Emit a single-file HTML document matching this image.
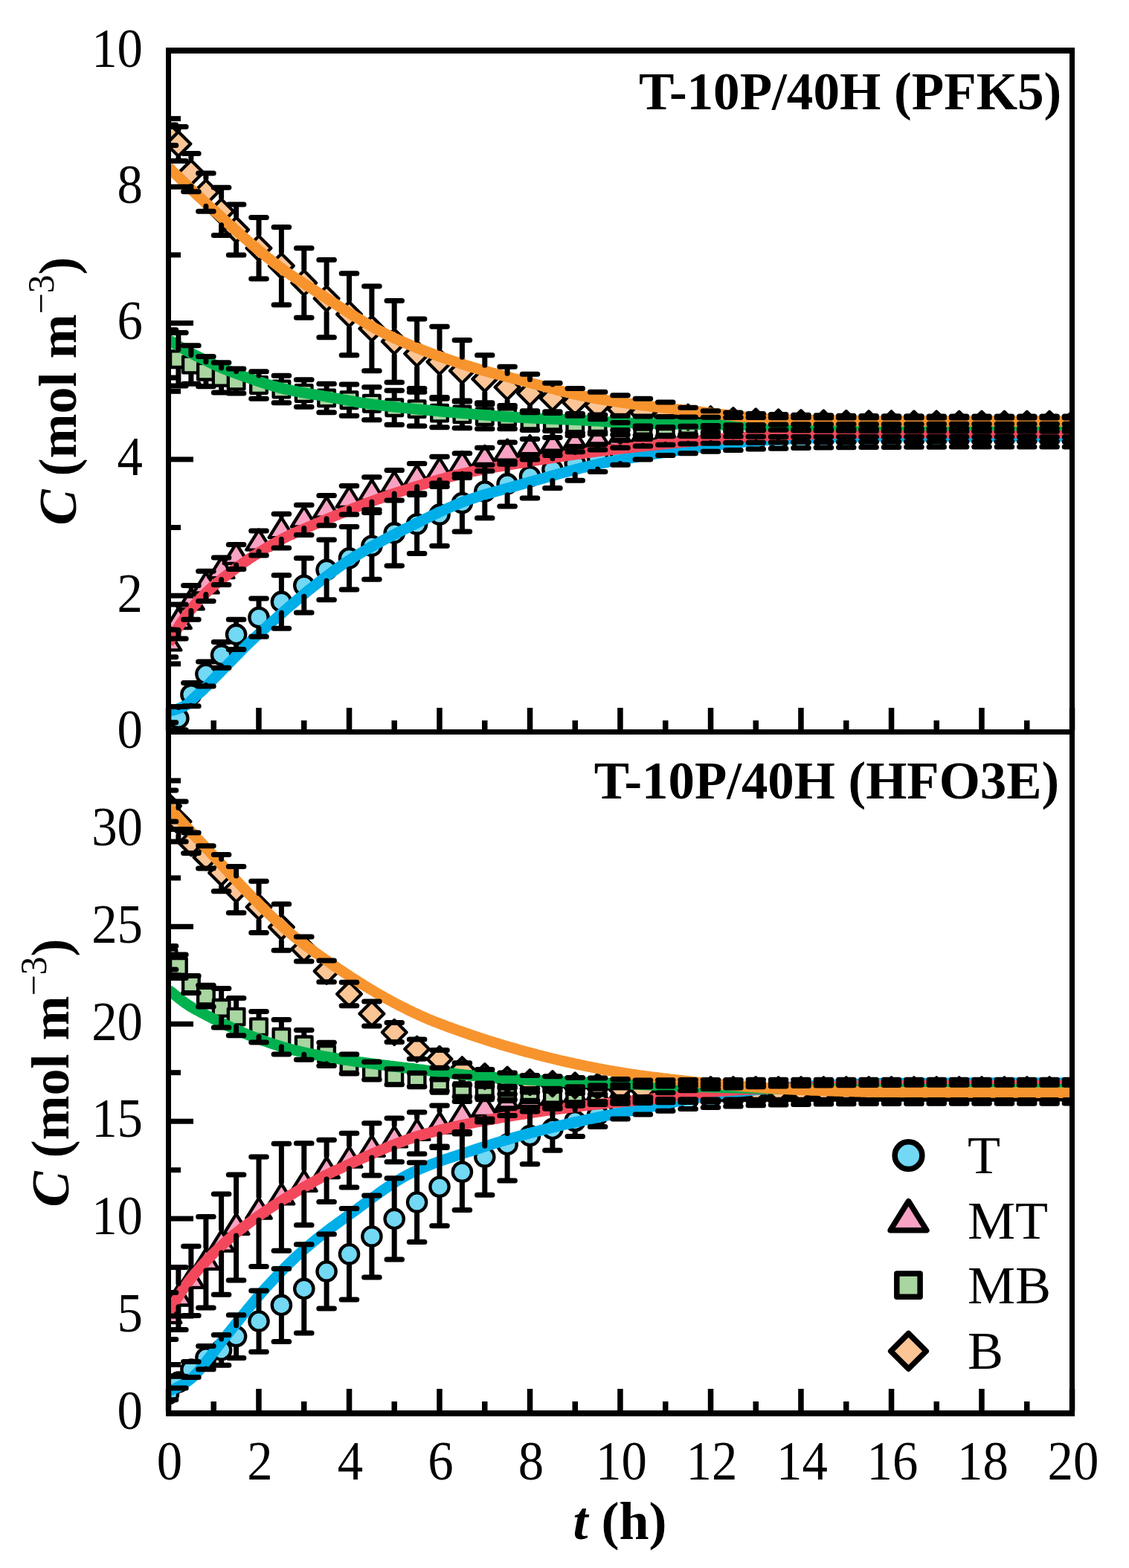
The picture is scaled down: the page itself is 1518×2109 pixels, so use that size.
<!DOCTYPE html>
<html><head><meta charset="utf-8"><title>C vs t</title>
<style>
html,body{margin:0;padding:0;background:#fff;}
svg{display:block;}
text{font-family:"Liberation Serif","Times New Roman",serif;fill:#000;}
</style></head><body>
<svg width="1518" height="2109" viewBox="0 0 1518 2109" xmlns="http://www.w3.org/2000/svg" font-size="72">
<defs>
<clipPath id="ct"><rect x="230" y="72" width="1208" height="909"/></clipPath>
<clipPath id="cb"><rect x="230" y="988" width="1208" height="909"/></clipPath>
</defs>
<rect width="1518" height="2109" fill="#fff"/>
<g clip-path="url(#ct)">
<circle cx="226.5" cy="982.7" r="12.65" fill="#72D8F3" stroke="#000" stroke-width="4.3"/>
<circle cx="239.9" cy="966.2" r="12.65" fill="#72D8F3" stroke="#000" stroke-width="4.3"/>
<circle cx="256.9" cy="934.1" r="12.65" fill="#72D8F3" stroke="#000" stroke-width="4.3"/>
<circle cx="276.9" cy="906.6" r="12.65" fill="#72D8F3" stroke="#000" stroke-width="4.3"/>
<circle cx="297.6" cy="880.9" r="12.65" fill="#72D8F3" stroke="#000" stroke-width="4.3"/>
<circle cx="317.6" cy="853.4" r="12.65" fill="#72D8F3" stroke="#000" stroke-width="4.3"/>
<circle cx="348.0" cy="830.5" r="12.65" fill="#72D8F3" stroke="#000" stroke-width="4.3"/>
<circle cx="378.4" cy="809.4" r="12.65" fill="#72D8F3" stroke="#000" stroke-width="4.3"/>
<circle cx="408.8" cy="787.5" r="12.65" fill="#72D8F3" stroke="#000" stroke-width="4.3"/>
<circle cx="439.1" cy="766.4" r="12.65" fill="#72D8F3" stroke="#000" stroke-width="4.3"/>
<circle cx="469.5" cy="750.8" r="12.65" fill="#72D8F3" stroke="#000" stroke-width="4.3"/>
<circle cx="499.9" cy="734.3" r="12.65" fill="#72D8F3" stroke="#000" stroke-width="4.3"/>
<circle cx="530.2" cy="716.9" r="12.65" fill="#72D8F3" stroke="#000" stroke-width="4.3"/>
<circle cx="560.6" cy="705.0" r="12.65" fill="#72D8F3" stroke="#000" stroke-width="4.3"/>
<circle cx="591.0" cy="692.1" r="12.65" fill="#72D8F3" stroke="#000" stroke-width="4.3"/>
<circle cx="621.4" cy="676.6" r="12.65" fill="#72D8F3" stroke="#000" stroke-width="4.3"/>
<circle cx="651.8" cy="661.0" r="12.65" fill="#72D8F3" stroke="#000" stroke-width="4.3"/>
<circle cx="682.1" cy="650.9" r="12.65" fill="#72D8F3" stroke="#000" stroke-width="4.3"/>
<circle cx="712.5" cy="640.8" r="12.65" fill="#72D8F3" stroke="#000" stroke-width="4.3"/>
<circle cx="742.9" cy="631.6" r="12.65" fill="#72D8F3" stroke="#000" stroke-width="4.3"/>
<circle cx="773.2" cy="623.4" r="12.65" fill="#72D8F3" stroke="#000" stroke-width="4.3"/>
<circle cx="803.6" cy="616.1" r="12.65" fill="#72D8F3" stroke="#000" stroke-width="4.3"/>
<circle cx="834.0" cy="608.7" r="12.65" fill="#72D8F3" stroke="#000" stroke-width="4.3"/>
<circle cx="864.4" cy="604.2" r="12.65" fill="#72D8F3" stroke="#000" stroke-width="4.3"/>
<circle cx="894.8" cy="599.6" r="12.65" fill="#72D8F3" stroke="#000" stroke-width="4.3"/>
<circle cx="925.1" cy="596.8" r="12.65" fill="#72D8F3" stroke="#000" stroke-width="4.3"/>
<circle cx="955.5" cy="594.5" r="12.65" fill="#72D8F3" stroke="#000" stroke-width="4.3"/>
<circle cx="985.9" cy="592.8" r="12.65" fill="#72D8F3" stroke="#000" stroke-width="4.3"/>
<circle cx="1016.2" cy="591.6" r="12.65" fill="#72D8F3" stroke="#000" stroke-width="4.3"/>
<circle cx="1046.6" cy="590.7" r="12.65" fill="#72D8F3" stroke="#000" stroke-width="4.3"/>
<circle cx="1077.0" cy="590.1" r="12.65" fill="#72D8F3" stroke="#000" stroke-width="4.3"/>
<circle cx="1107.4" cy="589.7" r="12.65" fill="#72D8F3" stroke="#000" stroke-width="4.3"/>
<circle cx="1137.8" cy="589.4" r="12.65" fill="#72D8F3" stroke="#000" stroke-width="4.3"/>
<circle cx="1168.1" cy="589.1" r="12.65" fill="#72D8F3" stroke="#000" stroke-width="4.3"/>
<circle cx="1198.5" cy="589.0" r="12.65" fill="#72D8F3" stroke="#000" stroke-width="4.3"/>
<circle cx="1228.9" cy="588.9" r="12.65" fill="#72D8F3" stroke="#000" stroke-width="4.3"/>
<circle cx="1259.2" cy="588.8" r="12.65" fill="#72D8F3" stroke="#000" stroke-width="4.3"/>
<circle cx="1289.6" cy="588.7" r="12.65" fill="#72D8F3" stroke="#000" stroke-width="4.3"/>
<circle cx="1320.0" cy="588.7" r="12.65" fill="#72D8F3" stroke="#000" stroke-width="4.3"/>
<circle cx="1350.4" cy="588.6" r="12.65" fill="#72D8F3" stroke="#000" stroke-width="4.3"/>
<circle cx="1380.8" cy="588.6" r="12.65" fill="#72D8F3" stroke="#000" stroke-width="4.3"/>
<circle cx="1411.1" cy="588.6" r="12.65" fill="#72D8F3" stroke="#000" stroke-width="4.3"/>
<circle cx="1441.5" cy="588.6" r="12.65" fill="#72D8F3" stroke="#000" stroke-width="4.3"/>
<path d="M226.5,847.4L243.3,874.4L209.7,874.4Z" fill="#F9A2C3" stroke="#000" stroke-width="4.3" stroke-linejoin="round"/>
<path d="M239.9,818.0L256.7,845.0L223.1,845.0Z" fill="#F9A2C3" stroke="#000" stroke-width="4.3" stroke-linejoin="round"/>
<path d="M256.9,792.4L273.7,819.4L240.1,819.4Z" fill="#F9A2C3" stroke="#000" stroke-width="4.3" stroke-linejoin="round"/>
<path d="M276.9,770.4L293.7,797.4L260.1,797.4Z" fill="#F9A2C3" stroke="#000" stroke-width="4.3" stroke-linejoin="round"/>
<path d="M297.6,750.2L314.4,777.2L280.8,777.2Z" fill="#F9A2C3" stroke="#000" stroke-width="4.3" stroke-linejoin="round"/>
<path d="M317.6,731.0L334.4,758.0L300.8,758.0Z" fill="#F9A2C3" stroke="#000" stroke-width="4.3" stroke-linejoin="round"/>
<path d="M348.0,712.6L364.8,739.6L331.2,739.6Z" fill="#F9A2C3" stroke="#000" stroke-width="4.3" stroke-linejoin="round"/>
<path d="M378.4,696.1L395.2,723.1L361.6,723.1Z" fill="#F9A2C3" stroke="#000" stroke-width="4.3" stroke-linejoin="round"/>
<path d="M408.8,681.5L425.6,708.5L391.9,708.5Z" fill="#F9A2C3" stroke="#000" stroke-width="4.3" stroke-linejoin="round"/>
<path d="M439.1,668.6L455.9,695.6L422.3,695.6Z" fill="#F9A2C3" stroke="#000" stroke-width="4.3" stroke-linejoin="round"/>
<path d="M469.5,654.9L486.3,681.9L452.7,681.9Z" fill="#F9A2C3" stroke="#000" stroke-width="4.3" stroke-linejoin="round"/>
<path d="M499.9,645.7L516.7,672.7L483.1,672.7Z" fill="#F9A2C3" stroke="#000" stroke-width="4.3" stroke-linejoin="round"/>
<path d="M530.2,634.7L547.0,661.7L513.5,661.7Z" fill="#F9A2C3" stroke="#000" stroke-width="4.3" stroke-linejoin="round"/>
<path d="M560.6,625.6L577.4,652.6L543.8,652.6Z" fill="#F9A2C3" stroke="#000" stroke-width="4.3" stroke-linejoin="round"/>
<path d="M591.0,616.4L607.8,643.4L574.2,643.4Z" fill="#F9A2C3" stroke="#000" stroke-width="4.3" stroke-linejoin="round"/>
<path d="M621.4,608.1L638.2,635.1L604.6,635.1Z" fill="#F9A2C3" stroke="#000" stroke-width="4.3" stroke-linejoin="round"/>
<path d="M651.8,599.9L668.5,626.9L635.0,626.9Z" fill="#F9A2C3" stroke="#000" stroke-width="4.3" stroke-linejoin="round"/>
<path d="M682.1,591.7L698.9,618.7L665.3,618.7Z" fill="#F9A2C3" stroke="#000" stroke-width="4.3" stroke-linejoin="round"/>
<path d="M712.5,586.2L729.3,613.2L695.7,613.2Z" fill="#F9A2C3" stroke="#000" stroke-width="4.3" stroke-linejoin="round"/>
<path d="M742.9,582.5L759.7,609.5L726.1,609.5Z" fill="#F9A2C3" stroke="#000" stroke-width="4.3" stroke-linejoin="round"/>
<path d="M773.2,578.8L790.0,605.8L756.5,605.8Z" fill="#F9A2C3" stroke="#000" stroke-width="4.3" stroke-linejoin="round"/>
<path d="M803.6,575.2L820.4,602.2L786.8,602.2Z" fill="#F9A2C3" stroke="#000" stroke-width="4.3" stroke-linejoin="round"/>
<path d="M834.0,572.4L850.8,599.4L817.2,599.4Z" fill="#F9A2C3" stroke="#000" stroke-width="4.3" stroke-linejoin="round"/>
<path d="M864.4,570.1L881.2,597.1L847.6,597.1Z" fill="#F9A2C3" stroke="#000" stroke-width="4.3" stroke-linejoin="round"/>
<path d="M894.8,568.4L911.5,595.4L878.0,595.4Z" fill="#F9A2C3" stroke="#000" stroke-width="4.3" stroke-linejoin="round"/>
<path d="M925.1,567.2L941.9,594.2L908.3,594.2Z" fill="#F9A2C3" stroke="#000" stroke-width="4.3" stroke-linejoin="round"/>
<path d="M955.5,566.3L972.3,593.3L938.7,593.3Z" fill="#F9A2C3" stroke="#000" stroke-width="4.3" stroke-linejoin="round"/>
<path d="M985.9,565.7L1002.7,592.7L969.1,592.7Z" fill="#F9A2C3" stroke="#000" stroke-width="4.3" stroke-linejoin="round"/>
<path d="M1016.2,565.3L1033.0,592.3L999.5,592.3Z" fill="#F9A2C3" stroke="#000" stroke-width="4.3" stroke-linejoin="round"/>
<path d="M1046.6,565.0L1063.4,592.0L1029.8,592.0Z" fill="#F9A2C3" stroke="#000" stroke-width="4.3" stroke-linejoin="round"/>
<path d="M1077.0,564.7L1093.8,591.7L1060.2,591.7Z" fill="#F9A2C3" stroke="#000" stroke-width="4.3" stroke-linejoin="round"/>
<path d="M1107.4,564.6L1124.2,591.6L1090.6,591.6Z" fill="#F9A2C3" stroke="#000" stroke-width="4.3" stroke-linejoin="round"/>
<path d="M1137.8,564.5L1154.5,591.5L1121.0,591.5Z" fill="#F9A2C3" stroke="#000" stroke-width="4.3" stroke-linejoin="round"/>
<path d="M1168.1,564.4L1184.9,591.4L1151.3,591.4Z" fill="#F9A2C3" stroke="#000" stroke-width="4.3" stroke-linejoin="round"/>
<path d="M1198.5,564.3L1215.3,591.3L1181.7,591.3Z" fill="#F9A2C3" stroke="#000" stroke-width="4.3" stroke-linejoin="round"/>
<path d="M1228.9,564.3L1245.7,591.3L1212.1,591.3Z" fill="#F9A2C3" stroke="#000" stroke-width="4.3" stroke-linejoin="round"/>
<path d="M1259.2,564.2L1276.0,591.2L1242.5,591.2Z" fill="#F9A2C3" stroke="#000" stroke-width="4.3" stroke-linejoin="round"/>
<path d="M1289.6,564.2L1306.4,591.2L1272.8,591.2Z" fill="#F9A2C3" stroke="#000" stroke-width="4.3" stroke-linejoin="round"/>
<path d="M1320.0,564.2L1336.8,591.2L1303.2,591.2Z" fill="#F9A2C3" stroke="#000" stroke-width="4.3" stroke-linejoin="round"/>
<path d="M1350.4,564.2L1367.2,591.2L1333.6,591.2Z" fill="#F9A2C3" stroke="#000" stroke-width="4.3" stroke-linejoin="round"/>
<path d="M1380.8,564.2L1397.5,591.2L1364.0,591.2Z" fill="#F9A2C3" stroke="#000" stroke-width="4.3" stroke-linejoin="round"/>
<path d="M1411.1,564.2L1427.9,591.2L1394.3,591.2Z" fill="#F9A2C3" stroke="#000" stroke-width="4.3" stroke-linejoin="round"/>
<path d="M1441.5,564.2L1458.3,591.2L1424.7,591.2Z" fill="#F9A2C3" stroke="#000" stroke-width="4.3" stroke-linejoin="round"/>
<rect x="215.7" y="465.0" width="21.6" height="21.6" fill="#A8D5A0" stroke="#000" stroke-width="4.3" stroke-linejoin="round"/>
<rect x="229.1" y="472.4" width="21.6" height="21.6" fill="#A8D5A0" stroke="#000" stroke-width="4.3" stroke-linejoin="round"/>
<rect x="246.1" y="479.7" width="21.6" height="21.6" fill="#A8D5A0" stroke="#000" stroke-width="4.3" stroke-linejoin="round"/>
<rect x="266.1" y="488.9" width="21.6" height="21.6" fill="#A8D5A0" stroke="#000" stroke-width="4.3" stroke-linejoin="round"/>
<rect x="286.8" y="497.1" width="21.6" height="21.6" fill="#A8D5A0" stroke="#000" stroke-width="4.3" stroke-linejoin="round"/>
<rect x="306.8" y="501.7" width="21.6" height="21.6" fill="#A8D5A0" stroke="#000" stroke-width="4.3" stroke-linejoin="round"/>
<rect x="337.2" y="507.2" width="21.6" height="21.6" fill="#A8D5A0" stroke="#000" stroke-width="4.3" stroke-linejoin="round"/>
<rect x="367.6" y="512.7" width="21.6" height="21.6" fill="#A8D5A0" stroke="#000" stroke-width="4.3" stroke-linejoin="round"/>
<rect x="397.9" y="518.2" width="21.6" height="21.6" fill="#A8D5A0" stroke="#000" stroke-width="4.3" stroke-linejoin="round"/>
<rect x="428.3" y="524.6" width="21.6" height="21.6" fill="#A8D5A0" stroke="#000" stroke-width="4.3" stroke-linejoin="round"/>
<rect x="458.7" y="527.4" width="21.6" height="21.6" fill="#A8D5A0" stroke="#000" stroke-width="4.3" stroke-linejoin="round"/>
<rect x="489.1" y="531.9" width="21.6" height="21.6" fill="#A8D5A0" stroke="#000" stroke-width="4.3" stroke-linejoin="round"/>
<rect x="519.5" y="537.4" width="21.6" height="21.6" fill="#A8D5A0" stroke="#000" stroke-width="4.3" stroke-linejoin="round"/>
<rect x="549.8" y="539.3" width="21.6" height="21.6" fill="#A8D5A0" stroke="#000" stroke-width="4.3" stroke-linejoin="round"/>
<rect x="580.2" y="544.8" width="21.6" height="21.6" fill="#A8D5A0" stroke="#000" stroke-width="4.3" stroke-linejoin="round"/>
<rect x="610.6" y="546.6" width="21.6" height="21.6" fill="#A8D5A0" stroke="#000" stroke-width="4.3" stroke-linejoin="round"/>
<rect x="641.0" y="549.4" width="21.6" height="21.6" fill="#A8D5A0" stroke="#000" stroke-width="4.3" stroke-linejoin="round"/>
<rect x="671.3" y="550.3" width="21.6" height="21.6" fill="#A8D5A0" stroke="#000" stroke-width="4.3" stroke-linejoin="round"/>
<rect x="701.7" y="554.9" width="21.6" height="21.6" fill="#A8D5A0" stroke="#000" stroke-width="4.3" stroke-linejoin="round"/>
<rect x="732.1" y="555.8" width="21.6" height="21.6" fill="#A8D5A0" stroke="#000" stroke-width="4.3" stroke-linejoin="round"/>
<rect x="762.5" y="558.5" width="21.6" height="21.6" fill="#A8D5A0" stroke="#000" stroke-width="4.3" stroke-linejoin="round"/>
<rect x="792.8" y="560.1" width="21.6" height="21.6" fill="#A8D5A0" stroke="#000" stroke-width="4.3" stroke-linejoin="round"/>
<rect x="823.2" y="561.2" width="21.6" height="21.6" fill="#A8D5A0" stroke="#000" stroke-width="4.3" stroke-linejoin="round"/>
<rect x="853.6" y="562.0" width="21.6" height="21.6" fill="#A8D5A0" stroke="#000" stroke-width="4.3" stroke-linejoin="round"/>
<rect x="884.0" y="562.6" width="21.6" height="21.6" fill="#A8D5A0" stroke="#000" stroke-width="4.3" stroke-linejoin="round"/>
<rect x="914.3" y="563.0" width="21.6" height="21.6" fill="#A8D5A0" stroke="#000" stroke-width="4.3" stroke-linejoin="round"/>
<rect x="944.7" y="563.3" width="21.6" height="21.6" fill="#A8D5A0" stroke="#000" stroke-width="4.3" stroke-linejoin="round"/>
<rect x="975.1" y="563.5" width="21.6" height="21.6" fill="#A8D5A0" stroke="#000" stroke-width="4.3" stroke-linejoin="round"/>
<rect x="1005.5" y="563.6" width="21.6" height="21.6" fill="#A8D5A0" stroke="#000" stroke-width="4.3" stroke-linejoin="round"/>
<rect x="1035.8" y="563.8" width="21.6" height="21.6" fill="#A8D5A0" stroke="#000" stroke-width="4.3" stroke-linejoin="round"/>
<rect x="1066.2" y="563.8" width="21.6" height="21.6" fill="#A8D5A0" stroke="#000" stroke-width="4.3" stroke-linejoin="round"/>
<rect x="1096.6" y="563.9" width="21.6" height="21.6" fill="#A8D5A0" stroke="#000" stroke-width="4.3" stroke-linejoin="round"/>
<rect x="1127.0" y="563.9" width="21.6" height="21.6" fill="#A8D5A0" stroke="#000" stroke-width="4.3" stroke-linejoin="round"/>
<rect x="1157.3" y="564.0" width="21.6" height="21.6" fill="#A8D5A0" stroke="#000" stroke-width="4.3" stroke-linejoin="round"/>
<rect x="1187.7" y="564.0" width="21.6" height="21.6" fill="#A8D5A0" stroke="#000" stroke-width="4.3" stroke-linejoin="round"/>
<rect x="1218.1" y="564.0" width="21.6" height="21.6" fill="#A8D5A0" stroke="#000" stroke-width="4.3" stroke-linejoin="round"/>
<rect x="1248.5" y="564.0" width="21.6" height="21.6" fill="#A8D5A0" stroke="#000" stroke-width="4.3" stroke-linejoin="round"/>
<rect x="1278.8" y="564.0" width="21.6" height="21.6" fill="#A8D5A0" stroke="#000" stroke-width="4.3" stroke-linejoin="round"/>
<rect x="1309.2" y="564.0" width="21.6" height="21.6" fill="#A8D5A0" stroke="#000" stroke-width="4.3" stroke-linejoin="round"/>
<rect x="1339.6" y="564.0" width="21.6" height="21.6" fill="#A8D5A0" stroke="#000" stroke-width="4.3" stroke-linejoin="round"/>
<rect x="1370.0" y="564.0" width="21.6" height="21.6" fill="#A8D5A0" stroke="#000" stroke-width="4.3" stroke-linejoin="round"/>
<rect x="1400.3" y="564.0" width="21.6" height="21.6" fill="#A8D5A0" stroke="#000" stroke-width="4.3" stroke-linejoin="round"/>
<rect x="1430.7" y="564.0" width="21.6" height="21.6" fill="#A8D5A0" stroke="#000" stroke-width="4.3" stroke-linejoin="round"/>
<path d="M226.5,165.2L242.9,181.6L226.5,198.0L210.1,181.6Z" fill="#FBC596" stroke="#000" stroke-width="4.3" stroke-linejoin="round"/>
<path d="M239.9,177.2L256.3,193.6L239.9,210.0L223.5,193.6Z" fill="#FBC596" stroke="#000" stroke-width="4.3" stroke-linejoin="round"/>
<path d="M256.9,215.7L273.3,232.1L256.9,248.5L240.5,232.1Z" fill="#FBC596" stroke="#000" stroke-width="4.3" stroke-linejoin="round"/>
<path d="M276.9,242.2L293.3,258.6L276.9,275.0L260.5,258.6Z" fill="#FBC596" stroke="#000" stroke-width="4.3" stroke-linejoin="round"/>
<path d="M297.6,267.9L314.0,284.3L297.6,300.7L281.2,284.3Z" fill="#FBC596" stroke="#000" stroke-width="4.3" stroke-linejoin="round"/>
<path d="M317.6,292.6L334.0,309.0L317.6,325.4L301.2,309.0Z" fill="#FBC596" stroke="#000" stroke-width="4.3" stroke-linejoin="round"/>
<path d="M348.0,317.4L364.4,333.8L348.0,350.2L331.6,333.8Z" fill="#FBC596" stroke="#000" stroke-width="4.3" stroke-linejoin="round"/>
<path d="M378.4,341.2L394.8,357.6L378.4,374.0L362.0,357.6Z" fill="#FBC596" stroke="#000" stroke-width="4.3" stroke-linejoin="round"/>
<path d="M408.8,364.1L425.1,380.5L408.8,396.9L392.4,380.5Z" fill="#FBC596" stroke="#000" stroke-width="4.3" stroke-linejoin="round"/>
<path d="M439.1,385.2L455.5,401.6L439.1,418.0L422.7,401.6Z" fill="#FBC596" stroke="#000" stroke-width="4.3" stroke-linejoin="round"/>
<path d="M469.5,406.3L485.9,422.7L469.5,439.1L453.1,422.7Z" fill="#FBC596" stroke="#000" stroke-width="4.3" stroke-linejoin="round"/>
<path d="M499.9,425.5L516.3,441.9L499.9,458.3L483.5,441.9Z" fill="#FBC596" stroke="#000" stroke-width="4.3" stroke-linejoin="round"/>
<path d="M530.2,442.9L546.6,459.3L530.2,475.7L513.9,459.3Z" fill="#FBC596" stroke="#000" stroke-width="4.3" stroke-linejoin="round"/>
<path d="M560.6,459.4L577.0,475.8L560.6,492.2L544.2,475.8Z" fill="#FBC596" stroke="#000" stroke-width="4.3" stroke-linejoin="round"/>
<path d="M591.0,470.4L607.4,486.8L591.0,503.2L574.6,486.8Z" fill="#FBC596" stroke="#000" stroke-width="4.3" stroke-linejoin="round"/>
<path d="M621.4,482.4L637.8,498.8L621.4,515.2L605.0,498.8Z" fill="#FBC596" stroke="#000" stroke-width="4.3" stroke-linejoin="round"/>
<path d="M651.8,493.4L668.1,509.8L651.8,526.2L635.4,509.8Z" fill="#FBC596" stroke="#000" stroke-width="4.3" stroke-linejoin="round"/>
<path d="M682.1,504.4L698.5,520.8L682.1,537.2L665.7,520.8Z" fill="#FBC596" stroke="#000" stroke-width="4.3" stroke-linejoin="round"/>
<path d="M712.5,512.6L728.9,529.0L712.5,545.4L696.1,529.0Z" fill="#FBC596" stroke="#000" stroke-width="4.3" stroke-linejoin="round"/>
<path d="M742.9,519.0L759.3,535.4L742.9,551.8L726.5,535.4Z" fill="#FBC596" stroke="#000" stroke-width="4.3" stroke-linejoin="round"/>
<path d="M773.2,524.5L789.6,540.9L773.2,557.3L756.9,540.9Z" fill="#FBC596" stroke="#000" stroke-width="4.3" stroke-linejoin="round"/>
<path d="M803.6,529.1L820.0,545.5L803.6,561.9L787.2,545.5Z" fill="#FBC596" stroke="#000" stroke-width="4.3" stroke-linejoin="round"/>
<path d="M834.0,533.7L850.4,550.1L834.0,566.5L817.6,550.1Z" fill="#FBC596" stroke="#000" stroke-width="4.3" stroke-linejoin="round"/>
<path d="M864.4,538.3L880.8,554.7L864.4,571.1L848.0,554.7Z" fill="#FBC596" stroke="#000" stroke-width="4.3" stroke-linejoin="round"/>
<path d="M894.8,541.9L911.1,558.3L894.8,574.7L878.4,558.3Z" fill="#FBC596" stroke="#000" stroke-width="4.3" stroke-linejoin="round"/>
<path d="M925.1,544.7L941.5,561.1L925.1,577.5L908.7,561.1Z" fill="#FBC596" stroke="#000" stroke-width="4.3" stroke-linejoin="round"/>
<path d="M955.5,547.4L971.9,563.8L955.5,580.2L939.1,563.8Z" fill="#FBC596" stroke="#000" stroke-width="4.3" stroke-linejoin="round"/>
<path d="M985.9,549.2L1002.3,565.6L985.9,582.0L969.5,565.6Z" fill="#FBC596" stroke="#000" stroke-width="4.3" stroke-linejoin="round"/>
<path d="M1016.2,550.5L1032.7,566.9L1016.2,583.3L999.9,566.9Z" fill="#FBC596" stroke="#000" stroke-width="4.3" stroke-linejoin="round"/>
<path d="M1046.6,551.5L1063.0,567.9L1046.6,584.3L1030.2,567.9Z" fill="#FBC596" stroke="#000" stroke-width="4.3" stroke-linejoin="round"/>
<path d="M1077.0,552.2L1093.4,568.6L1077.0,585.0L1060.6,568.6Z" fill="#FBC596" stroke="#000" stroke-width="4.3" stroke-linejoin="round"/>
<path d="M1107.4,552.6L1123.8,569.0L1107.4,585.4L1091.0,569.0Z" fill="#FBC596" stroke="#000" stroke-width="4.3" stroke-linejoin="round"/>
<path d="M1137.8,553.0L1154.2,569.4L1137.8,585.8L1121.3,569.4Z" fill="#FBC596" stroke="#000" stroke-width="4.3" stroke-linejoin="round"/>
<path d="M1168.1,553.2L1184.5,569.6L1168.1,586.0L1151.7,569.6Z" fill="#FBC596" stroke="#000" stroke-width="4.3" stroke-linejoin="round"/>
<path d="M1198.5,553.4L1214.9,569.8L1198.5,586.2L1182.1,569.8Z" fill="#FBC596" stroke="#000" stroke-width="4.3" stroke-linejoin="round"/>
<path d="M1228.9,553.5L1245.3,569.9L1228.9,586.3L1212.5,569.9Z" fill="#FBC596" stroke="#000" stroke-width="4.3" stroke-linejoin="round"/>
<path d="M1259.2,553.6L1275.7,570.0L1259.2,586.4L1242.8,570.0Z" fill="#FBC596" stroke="#000" stroke-width="4.3" stroke-linejoin="round"/>
<path d="M1289.6,553.7L1306.0,570.1L1289.6,586.5L1273.2,570.1Z" fill="#FBC596" stroke="#000" stroke-width="4.3" stroke-linejoin="round"/>
<path d="M1320.0,553.7L1336.4,570.1L1320.0,586.5L1303.6,570.1Z" fill="#FBC596" stroke="#000" stroke-width="4.3" stroke-linejoin="round"/>
<path d="M1350.4,553.8L1366.8,570.2L1350.4,586.6L1334.0,570.2Z" fill="#FBC596" stroke="#000" stroke-width="4.3" stroke-linejoin="round"/>
<path d="M1380.8,553.8L1397.2,570.2L1380.8,586.6L1364.3,570.2Z" fill="#FBC596" stroke="#000" stroke-width="4.3" stroke-linejoin="round"/>
<path d="M1411.1,553.8L1427.5,570.2L1411.1,586.6L1394.7,570.2Z" fill="#FBC596" stroke="#000" stroke-width="4.3" stroke-linejoin="round"/>
<path d="M1441.5,553.8L1457.9,570.2L1441.5,586.6L1425.1,570.2Z" fill="#FBC596" stroke="#000" stroke-width="4.3" stroke-linejoin="round"/>
<path d="M226.5,956.1L229.5,955.9L232.6,955.4L235.6,954.6L238.7,953.6L241.7,952.4L244.7,951.1L247.8,949.7L250.8,948.1L253.8,945.6L256.9,942.6L259.9,939.5L262.9,936.7L266.0,934.0L269.0,931.4L272.1,928.7L275.1,925.8L278.1,922.8L281.2,919.7L284.2,916.4L287.2,913.3L290.3,910.2L293.3,907.1L296.4,904.0L299.4,900.8L302.4,897.7L305.5,894.5L308.5,891.4L311.6,888.3L314.6,885.2L317.6,882.1L320.7,879.0L323.7,875.9L326.7,872.9L329.8,869.9L332.8,866.9L335.9,863.9L338.9,861.0L341.9,858.1L345.0,855.3L348.0,852.5L351.0,849.8L354.1,847.0L357.1,844.3L360.1,841.5L363.2,838.8L366.2,836.1L369.3,833.3L372.3,830.6L375.3,827.9L378.4,825.3L381.4,822.6L384.5,819.9L387.5,817.3L390.5,814.6L393.6,812.0L396.6,809.4L399.6,806.8L402.7,804.2L405.7,801.7L408.8,799.2L411.8,796.6L414.8,794.1L417.9,791.7L420.9,789.2L423.9,786.8L427.0,784.4L430.0,782.0L433.1,779.6L436.1,777.3L439.1,775.0L442.2,772.7L445.2,770.5L448.2,768.2L451.3,766.0L454.3,763.9L457.4,761.7L460.4,759.6L463.4,757.6L466.5,755.5L469.5,753.5L472.5,751.6L475.6,749.6L478.6,747.7L481.6,745.9L484.7,744.0L487.7,742.2L490.8,740.4L493.8,738.6L496.8,736.9L499.9,735.1L502.9,733.4L506.0,731.7L509.0,730.1L512.0,728.4L515.1,726.8L518.1,725.1L521.1,723.5L524.2,721.9L527.2,720.4L530.2,718.8L533.3,717.2L536.3,715.7L539.4,714.1L542.4,712.6L545.4,711.1L548.5,709.5L551.5,708.0L554.5,706.5L557.6,705.0L560.6,703.5L563.7,701.9L566.7,700.4L569.7,698.9L572.8,697.4L575.8,695.9L578.9,694.4L581.9,693.0L584.9,691.5L588.0,690.1L591.0,688.7L594.0,687.2L597.1,685.9L600.1,684.5L603.2,683.1L606.2,681.8L609.2,680.5L612.3,679.2L615.3,678.0L618.3,676.8L621.4,675.6L624.4,674.4L627.5,673.3L630.5,672.2L633.5,671.2L636.6,670.1L639.6,669.1L642.6,668.1L645.7,667.2L648.7,666.2L651.8,665.3L654.8,664.4L657.8,663.5L660.9,662.6L663.9,661.8L666.9,660.9L670.0,660.1L673.0,659.2L676.0,658.4L679.1,657.6L682.1,656.7L685.2,655.9L688.2,655.1L691.2,654.2L694.3,653.4L697.3,652.5L700.4,651.7L703.4,650.8L706.4,650.0L709.5,649.1L712.5,648.3L715.5,647.4L718.6,646.6L721.6,645.7L724.7,644.9L727.7,644.0L730.7,643.2L733.8,642.3L736.8,641.5L739.8,640.6L742.9,639.8L745.9,638.9L748.9,638.1L752.0,637.3L755.0,636.4L758.1,635.6L761.1,634.8L764.1,634.0L767.2,633.2L770.2,632.4L773.2,631.6L776.3,630.9L779.3,630.1L782.4,629.3L785.4,628.6L788.4,627.9L791.5,627.1L794.5,626.4L797.6,625.7L800.6,625.0L803.6,624.3L806.7,623.7L809.7,623.0L812.7,622.4L815.8,621.8L818.8,621.2L821.9,620.6L824.9,620.0L827.9,619.4L831.0,618.9L834.0,618.4L837.0,617.8L840.1,617.3L843.1,616.8L846.2,616.3L849.2,615.8L852.2,615.3L855.3,614.8L858.3,614.2L861.3,613.7L864.4,613.2L867.4,612.7L870.5,612.2L873.5,611.7L876.5,611.2L879.6,610.7L882.6,610.2L885.6,609.8L888.7,609.3L891.7,608.8L894.8,608.3L897.8,607.8L900.8,607.4L903.9,606.9L906.9,606.4L909.9,606.0L913.0,605.5L916.0,605.0L919.1,604.6L922.1,604.2L925.1,603.7L928.2,603.3L931.2,602.8L934.2,602.4L937.3,602.0L940.3,601.6L943.4,601.2L946.4,600.7L949.4,600.3L952.5,599.9L955.5,599.6L958.5,599.2L961.6,598.8L964.6,598.4L967.7,598.0L970.7,597.7L973.7,597.3L976.8,597.0L979.8,596.6L982.8,596.3L985.9,596.0L988.9,595.6L992.0,595.3L995.0,595.0L998.0,594.7L1001.1,594.4L1004.1,594.1L1007.1,593.9L1010.2,593.6L1013.2,593.3L1016.2,593.1L1019.3,592.8L1022.3,592.6L1025.4,592.4L1028.4,592.1L1031.4,591.9L1034.5,591.7L1037.5,591.5L1040.6,591.3L1043.6,591.2L1046.6,591.0L1049.7,590.8L1052.7,590.7L1055.7,590.5L1058.8,590.4L1061.8,590.3L1064.8,590.2L1067.9,590.0L1070.9,589.9L1074.0,589.8L1077.0,589.7L1080.0,589.5L1083.1,589.4L1086.1,589.3L1089.2,589.2L1092.2,589.1L1095.2,589.0L1098.3,588.9L1101.3,588.7L1104.3,588.6L1107.4,588.5L1110.4,588.4L1113.5,588.3L1116.5,588.2L1119.5,588.1L1122.6,588.0L1125.6,587.9L1128.6,587.9L1131.7,587.8L1134.7,587.7L1137.8,587.6L1140.8,587.5L1143.8,587.4L1146.9,587.4L1149.9,587.3L1152.9,587.2L1156.0,587.2L1159.0,587.1L1162.1,587.1L1165.1,587.0L1168.1,587.0L1171.2,586.9L1174.2,586.9L1177.2,586.9L1180.3,586.8L1183.3,586.8L1186.3,586.8L1189.4,586.8L1192.4,586.7L1195.5,586.7L1198.5,586.7L1201.5,586.7L1204.6,586.7L1207.6,586.7L1210.7,586.7L1213.7,586.7L1216.7,586.7L1219.8,586.7L1222.8,586.7L1225.8,586.7L1228.9,586.7L1231.9,586.7L1235.0,586.7L1238.0,586.7L1241.0,586.7L1244.1,586.7L1247.1,586.7L1250.1,586.7L1253.2,586.7L1256.2,586.7L1259.2,586.7L1262.3,586.7L1265.3,586.7L1268.4,586.7L1271.4,586.7L1274.4,586.7L1277.5,586.7L1280.5,586.7L1283.6,586.7L1286.6,586.7L1289.6,586.7L1292.7,586.7L1295.7,586.7L1298.7,586.7L1301.8,586.7L1304.8,586.7L1307.9,586.7L1310.9,586.7L1313.9,586.7L1317.0,586.7L1320.0,586.7L1323.0,586.7L1326.1,586.7L1329.1,586.7L1332.1,586.7L1335.2,586.7L1338.2,586.7L1341.3,586.7L1344.3,586.7L1347.3,586.7L1350.4,586.7L1353.4,586.7L1356.5,586.7L1359.5,586.7L1362.5,586.7L1365.6,586.7L1368.6,586.7L1371.6,586.7L1374.7,586.7L1377.7,586.7L1380.8,586.7L1383.8,586.7L1386.8,586.7L1389.9,586.7L1392.9,586.7L1395.9,586.7L1399.0,586.7L1402.0,586.7L1405.1,586.7L1408.1,586.7L1411.1,586.7L1414.2,586.7L1417.2,586.7L1420.2,586.7L1423.3,586.7L1426.3,586.7L1429.4,586.7L1432.4,586.7L1435.4,586.7L1438.5,586.7L1441.5,586.7" fill="none" stroke="#00AEE8" stroke-width="14.5" stroke-linejoin="round"/>
<path d="M226.5,865.4L229.5,860.1L232.6,855.0L235.6,850.0L238.7,845.2L241.7,840.5L244.7,836.0L247.8,831.6L250.8,827.4L253.8,823.4L256.9,819.5L259.9,815.9L262.9,812.3L266.0,808.9L269.0,805.5L272.1,802.3L275.1,799.2L278.1,796.3L281.2,793.4L284.2,790.6L287.2,788.0L290.3,785.4L293.3,782.9L296.4,780.4L299.4,777.9L302.4,775.5L305.5,773.1L308.5,770.8L311.6,768.5L314.6,766.2L317.6,763.9L320.7,761.7L323.7,759.5L326.7,757.4L329.8,755.3L332.8,753.2L335.9,751.1L338.9,749.1L341.9,747.1L345.0,745.2L348.0,743.2L351.0,741.4L354.1,739.5L357.1,737.6L360.1,735.8L363.2,734.1L366.2,732.3L369.3,730.6L372.3,728.9L375.3,727.2L378.4,725.6L381.4,723.9L384.5,722.4L387.5,720.8L390.5,719.4L393.6,718.0L396.6,716.6L399.6,715.3L402.7,714.0L405.7,712.7L408.8,711.4L411.8,710.1L414.8,708.8L417.9,707.5L420.9,706.2L423.9,704.9L427.0,703.6L430.0,702.3L433.1,701.0L436.1,699.8L439.1,698.5L442.2,697.2L445.2,695.9L448.2,694.7L451.3,693.4L454.3,692.2L457.4,690.9L460.4,689.7L463.4,688.5L466.5,687.2L469.5,686.0L472.5,684.8L475.6,683.6L478.6,682.4L481.6,681.2L484.7,680.1L487.7,678.9L490.8,677.8L493.8,676.6L496.8,675.5L499.9,674.3L502.9,673.2L506.0,672.1L509.0,671.0L512.0,670.0L515.1,668.9L518.1,667.8L521.1,666.8L524.2,665.7L527.2,664.7L530.2,663.7L533.3,662.7L536.3,661.7L539.4,660.8L542.4,659.8L545.4,658.8L548.5,657.8L551.5,656.9L554.5,655.9L557.6,654.9L560.6,654.0L563.7,653.1L566.7,652.1L569.7,651.2L572.8,650.3L575.8,649.4L578.9,648.5L581.9,647.6L584.9,646.8L588.0,645.9L591.0,645.0L594.0,644.2L597.1,643.4L600.1,642.6L603.2,641.8L606.2,641.0L609.2,640.2L612.3,639.4L615.3,638.7L618.3,638.0L621.4,637.2L624.4,636.5L627.5,635.9L630.5,635.2L633.5,634.5L636.6,633.9L639.6,633.3L642.6,632.7L645.7,632.1L648.7,631.5L651.8,630.9L654.8,630.3L657.8,629.8L660.9,629.2L663.9,628.7L666.9,628.2L670.0,627.7L673.0,627.1L676.0,626.6L679.1,626.1L682.1,625.6L685.2,625.1L688.2,624.6L691.2,624.1L694.3,623.6L697.3,623.1L700.4,622.6L703.4,622.1L706.4,621.6L709.5,621.1L712.5,620.6L715.5,620.2L718.6,619.7L721.6,619.2L724.7,618.7L727.7,618.2L730.7,617.7L733.8,617.2L736.8,616.8L739.8,616.3L742.9,615.8L745.9,615.3L748.9,614.9L752.0,614.4L755.0,613.9L758.1,613.5L761.1,613.0L764.1,612.6L767.2,612.1L770.2,611.7L773.2,611.2L776.3,610.8L779.3,610.4L782.4,610.0L785.4,609.5L788.4,609.1L791.5,608.7L794.5,608.3L797.6,607.9L800.6,607.5L803.6,607.1L806.7,606.7L809.7,606.3L812.7,606.0L815.8,605.6L818.8,605.2L821.9,604.9L824.9,604.5L827.9,604.2L831.0,603.8L834.0,603.5L837.0,603.2L840.1,602.9L843.1,602.5L846.2,602.2L849.2,601.9L852.2,601.6L855.3,601.2L858.3,600.9L861.3,600.6L864.4,600.3L867.4,599.9L870.5,599.6L873.5,599.3L876.5,599.0L879.6,598.6L882.6,598.3L885.6,598.0L888.7,597.7L891.7,597.4L894.8,597.1L897.8,596.7L900.8,596.4L903.9,596.1L906.9,595.8L909.9,595.5L913.0,595.2L916.0,594.9L919.1,594.6L922.1,594.3L925.1,594.0L928.2,593.7L931.2,593.4L934.2,593.2L937.3,592.9L940.3,592.6L943.4,592.3L946.4,592.0L949.4,591.8L952.5,591.5L955.5,591.2L958.5,591.0L961.6,590.7L964.6,590.5L967.7,590.2L970.7,590.0L973.7,589.7L976.8,589.5L979.8,589.3L982.8,589.0L985.9,588.8L988.9,588.6L992.0,588.4L995.0,588.2L998.0,587.9L1001.1,587.7L1004.1,587.5L1007.1,587.3L1010.2,587.2L1013.2,587.0L1016.2,586.8L1019.3,586.6L1022.3,586.5L1025.4,586.3L1028.4,586.1L1031.4,586.0L1034.5,585.8L1037.5,585.7L1040.6,585.6L1043.6,585.4L1046.6,585.3L1049.7,585.2L1052.7,585.1L1055.7,585.0L1058.8,584.9L1061.8,584.8L1064.8,584.7L1067.9,584.6L1070.9,584.5L1074.0,584.4L1077.0,584.4L1080.0,584.3L1083.1,584.2L1086.1,584.1L1089.2,584.0L1092.2,583.9L1095.2,583.8L1098.3,583.8L1101.3,583.7L1104.3,583.6L1107.4,583.5L1110.4,583.4L1113.5,583.4L1116.5,583.3L1119.5,583.2L1122.6,583.1L1125.6,583.1L1128.6,583.0L1131.7,582.9L1134.7,582.9L1137.8,582.8L1140.8,582.8L1143.8,582.7L1146.9,582.6L1149.9,582.6L1152.9,582.5L1156.0,582.5L1159.0,582.4L1162.1,582.4L1165.1,582.4L1168.1,582.3L1171.2,582.3L1174.2,582.3L1177.2,582.2L1180.3,582.2L1183.3,582.2L1186.3,582.2L1189.4,582.2L1192.4,582.2L1195.5,582.2L1198.5,582.2L1201.5,582.2L1204.6,582.2L1207.6,582.2L1210.7,582.2L1213.7,582.2L1216.7,582.2L1219.8,582.2L1222.8,582.2L1225.8,582.2L1228.9,582.2L1231.9,582.2L1235.0,582.2L1238.0,582.2L1241.0,582.2L1244.1,582.2L1247.1,582.2L1250.1,582.2L1253.2,582.2L1256.2,582.2L1259.2,582.2L1262.3,582.2L1265.3,582.2L1268.4,582.2L1271.4,582.2L1274.4,582.2L1277.5,582.2L1280.5,582.2L1283.6,582.2L1286.6,582.2L1289.6,582.2L1292.7,582.2L1295.7,582.2L1298.7,582.2L1301.8,582.2L1304.8,582.2L1307.9,582.2L1310.9,582.2L1313.9,582.2L1317.0,582.2L1320.0,582.2L1323.0,582.2L1326.1,582.2L1329.1,582.2L1332.1,582.2L1335.2,582.2L1338.2,582.2L1341.3,582.2L1344.3,582.2L1347.3,582.2L1350.4,582.2L1353.4,582.2L1356.5,582.2L1359.5,582.2L1362.5,582.2L1365.6,582.2L1368.6,582.2L1371.6,582.2L1374.7,582.2L1377.7,582.2L1380.8,582.2L1383.8,582.2L1386.8,582.2L1389.9,582.2L1392.9,582.2L1395.9,582.2L1399.0,582.2L1402.0,582.2L1405.1,582.2L1408.1,582.2L1411.1,582.2L1414.2,582.2L1417.2,582.2L1420.2,582.2L1423.3,582.2L1426.3,582.2L1429.4,582.2L1432.4,582.2L1435.4,582.2L1438.5,582.2L1441.5,582.2" fill="none" stroke="#F3485C" stroke-width="14.5" stroke-linejoin="round"/>
<path d="M226.5,456.6L229.5,458.6L232.6,460.6L235.6,462.5L238.7,464.4L241.7,466.2L244.7,468.0L247.8,469.8L250.8,471.6L253.8,473.3L256.9,474.9L259.9,476.5L262.9,478.1L266.0,479.6L269.0,481.1L272.1,482.6L275.1,484.1L278.1,485.6L281.2,487.1L284.2,488.6L287.2,490.0L290.3,491.5L293.3,492.8L296.4,494.2L299.4,495.4L302.4,496.7L305.5,497.9L308.5,499.1L311.6,500.2L314.6,501.3L317.6,502.4L320.7,503.5L323.7,504.6L326.7,505.7L329.8,506.8L332.8,507.9L335.9,508.9L338.9,510.0L341.9,511.1L345.0,512.1L348.0,513.2L351.0,514.2L354.1,515.2L357.1,516.1L360.1,517.1L363.2,518.0L366.2,518.9L369.3,519.8L372.3,520.6L375.3,521.4L378.4,522.1L381.4,522.9L384.5,523.6L387.5,524.2L390.5,524.9L393.6,525.5L396.6,526.1L399.6,526.7L402.7,527.2L405.7,527.8L408.8,528.3L411.8,528.8L414.8,529.4L417.9,529.9L420.9,530.4L423.9,530.9L427.0,531.4L430.0,531.9L433.1,532.4L436.1,532.9L439.1,533.5L442.2,534.0L445.2,534.6L448.2,535.1L451.3,535.6L454.3,536.2L457.4,536.8L460.4,537.3L463.4,537.8L466.5,538.4L469.5,538.9L472.5,539.5L475.6,540.0L478.6,540.5L481.6,541.0L484.7,541.5L487.7,541.9L490.8,542.4L493.8,542.8L496.8,543.3L499.9,543.7L502.9,544.1L506.0,544.4L509.0,544.8L512.0,545.2L515.1,545.5L518.1,545.9L521.1,546.2L524.2,546.6L527.2,546.9L530.2,547.3L533.3,547.6L536.3,547.9L539.4,548.2L542.4,548.6L545.4,548.9L548.5,549.2L551.5,549.5L554.5,549.8L557.6,550.1L560.6,550.4L563.7,550.7L566.7,551.0L569.7,551.2L572.8,551.5L575.8,551.8L578.9,552.1L581.9,552.4L584.9,552.6L588.0,552.9L591.0,553.2L594.0,553.4L597.1,553.7L600.1,554.0L603.2,554.2L606.2,554.5L609.2,554.7L612.3,555.0L615.3,555.3L618.3,555.5L621.4,555.8L624.4,556.0L627.5,556.3L630.5,556.5L633.5,556.8L636.6,557.1L639.6,557.3L642.6,557.6L645.7,557.8L648.7,558.1L651.8,558.3L654.8,558.6L657.8,558.8L660.9,559.1L663.9,559.3L666.9,559.5L670.0,559.7L673.0,560.0L676.0,560.2L679.1,560.4L682.1,560.6L685.2,560.8L688.2,561.0L691.2,561.1L694.3,561.3L697.3,561.5L700.4,561.6L703.4,561.8L706.4,562.0L709.5,562.1L712.5,562.3L715.5,562.4L718.6,562.5L721.6,562.7L724.7,562.8L727.7,562.9L730.7,563.0L733.8,563.2L736.8,563.3L739.8,563.4L742.9,563.5L745.9,563.7L748.9,563.8L752.0,563.9L755.0,564.0L758.1,564.2L761.1,564.3L764.1,564.4L767.2,564.5L770.2,564.7L773.2,564.8L776.3,564.9L779.3,565.1L782.4,565.2L785.4,565.4L788.4,565.5L791.5,565.7L794.5,565.8L797.6,566.0L800.6,566.2L803.6,566.3L806.7,566.6L809.7,566.8L812.7,567.0L815.8,567.3L818.8,567.5L821.9,567.7L824.9,568.0L827.9,568.1L831.0,568.3L834.0,568.4L837.0,568.5L840.1,568.6L843.1,568.7L846.2,568.8L849.2,568.9L852.2,569.0L855.3,569.0L858.3,569.1L861.3,569.2L864.4,569.3L867.4,569.4L870.5,569.5L873.5,569.5L876.5,569.6L879.6,569.7L882.6,569.8L885.6,569.8L888.7,569.9L891.7,570.0L894.8,570.1L897.8,570.1L900.8,570.2L903.9,570.3L906.9,570.3L909.9,570.4L913.0,570.5L916.0,570.5L919.1,570.6L922.1,570.7L925.1,570.7L928.2,570.8L931.2,570.8L934.2,570.9L937.3,571.0L940.3,571.0L943.4,571.1L946.4,571.1L949.4,571.2L952.5,571.2L955.5,571.3L958.5,571.3L961.6,571.3L964.6,571.4L967.7,571.4L970.7,571.5L973.7,571.5L976.8,571.6L979.8,571.6L982.8,571.6L985.9,571.7L988.9,571.7L992.0,571.7L995.0,571.8L998.0,571.8L1001.1,571.8L1004.1,571.8L1007.1,571.9L1010.2,571.9L1013.2,571.9L1016.2,571.9L1019.3,572.0L1022.3,572.0L1025.4,572.0L1028.4,572.0L1031.4,572.0L1034.5,572.0L1037.5,572.0L1040.6,572.0L1043.6,572.1L1046.6,572.1L1049.7,572.1L1052.7,572.1L1055.7,572.1L1058.8,572.1L1061.8,572.1L1064.8,572.1L1067.9,572.1L1070.9,572.1L1074.0,572.1L1077.0,572.1L1080.0,572.1L1083.1,572.1L1086.1,572.1L1089.2,572.1L1092.2,572.1L1095.2,572.1L1098.3,572.1L1101.3,572.1L1104.3,572.1L1107.4,572.1L1110.4,572.1L1113.5,572.1L1116.5,572.1L1119.5,572.1L1122.6,572.1L1125.6,572.1L1128.6,572.1L1131.7,572.1L1134.7,572.1L1137.8,572.1L1140.8,572.1L1143.8,572.1L1146.9,572.1L1149.9,572.1L1152.9,572.1L1156.0,572.1L1159.0,572.1L1162.1,572.1L1165.1,572.1L1168.1,572.1L1171.2,572.1L1174.2,572.1L1177.2,572.1L1180.3,572.1L1183.3,572.1L1186.3,572.1L1189.4,572.1L1192.4,572.1L1195.5,572.1L1198.5,572.1L1201.5,572.1L1204.6,572.1L1207.6,572.1L1210.7,572.1L1213.7,572.1L1216.7,572.1L1219.8,572.1L1222.8,572.1L1225.8,572.1L1228.9,572.1L1231.9,572.1L1235.0,572.1L1238.0,572.1L1241.0,572.1L1244.1,572.1L1247.1,572.1L1250.1,572.1L1253.2,572.1L1256.2,572.1L1259.2,572.1L1262.3,572.1L1265.3,572.1L1268.4,572.1L1271.4,572.1L1274.4,572.1L1277.5,572.1L1280.5,572.1L1283.6,572.1L1286.6,572.1L1289.6,572.1L1292.7,572.1L1295.7,572.1L1298.7,572.1L1301.8,572.1L1304.8,572.1L1307.9,572.1L1310.9,572.1L1313.9,572.1L1317.0,572.1L1320.0,572.1L1323.0,572.1L1326.1,572.1L1329.1,572.1L1332.1,572.1L1335.2,572.1L1338.2,572.1L1341.3,572.1L1344.3,572.1L1347.3,572.1L1350.4,572.1L1353.4,572.1L1356.5,572.1L1359.5,572.1L1362.5,572.1L1365.6,572.1L1368.6,572.1L1371.6,572.1L1374.7,572.1L1377.7,572.1L1380.8,572.1L1383.8,572.1L1386.8,572.1L1389.9,572.1L1392.9,572.1L1395.9,572.1L1399.0,572.1L1402.0,572.1L1405.1,572.1L1408.1,572.1L1411.1,572.1L1414.2,572.1L1417.2,572.1L1420.2,572.1L1423.3,572.1L1426.3,572.1L1429.4,572.1L1432.4,572.1L1435.4,572.1L1438.5,572.1L1441.5,572.1" fill="none" stroke="#00B14E" stroke-width="14.5" stroke-linejoin="round"/>
<path d="M226.5,224.7L229.5,227.7L232.6,230.8L235.6,233.8L238.7,236.7L241.7,239.7L244.7,242.7L247.8,245.6L250.8,248.6L253.8,251.5L256.9,254.4L259.9,257.3L262.9,260.2L266.0,263.1L269.0,265.9L272.1,268.8L275.1,271.6L278.1,274.4L281.2,277.2L284.2,279.9L287.2,282.7L290.3,285.5L293.3,288.2L296.4,291.0L299.4,293.8L302.4,296.5L305.5,299.3L308.5,302.1L311.6,304.8L314.6,307.5L317.6,310.3L320.7,313.0L323.7,315.7L326.7,318.4L329.8,321.0L332.8,323.7L335.9,326.3L338.9,328.9L341.9,331.5L345.0,334.1L348.0,336.7L351.0,339.2L354.1,341.7L357.1,344.2L360.1,346.7L363.2,349.1L366.2,351.5L369.3,353.9L372.3,356.2L375.3,358.6L378.4,360.8L381.4,363.1L384.5,365.3L387.5,367.4L390.5,369.5L393.6,371.6L396.6,373.6L399.6,375.6L402.7,377.5L405.7,379.5L408.8,381.4L411.8,383.4L414.8,385.4L417.9,387.3L420.9,389.3L423.9,391.3L427.0,393.3L430.0,395.3L433.1,397.3L436.1,399.3L439.1,401.3L442.2,403.3L445.2,405.3L448.2,407.2L451.3,409.2L454.3,411.2L457.4,413.1L460.4,415.1L463.4,417.0L466.5,419.0L469.5,420.9L472.5,422.8L475.6,424.7L478.6,426.6L481.6,428.4L484.7,430.2L487.7,432.1L490.8,433.9L493.8,435.6L496.8,437.4L499.9,439.1L502.9,440.8L506.0,442.5L509.0,444.1L512.0,445.7L515.1,447.3L518.1,448.9L521.1,450.4L524.2,451.9L527.2,453.3L530.2,454.8L533.3,456.2L536.3,457.5L539.4,458.9L542.4,460.2L545.4,461.5L548.5,462.8L551.5,464.1L554.5,465.4L557.6,466.6L560.6,467.9L563.7,469.1L566.7,470.3L569.7,471.5L572.8,472.6L575.8,473.8L578.9,474.9L581.9,476.1L584.9,477.2L588.0,478.3L591.0,479.4L594.0,480.4L597.1,481.5L600.1,482.6L603.2,483.6L606.2,484.6L609.2,485.7L612.3,486.7L615.3,487.7L618.3,488.7L621.4,489.6L624.4,490.6L627.5,491.6L630.5,492.5L633.5,493.5L636.6,494.4L639.6,495.3L642.6,496.2L645.7,497.1L648.7,497.9L651.8,498.8L654.8,499.6L657.8,500.4L660.9,501.2L663.9,502.1L666.9,502.9L670.0,503.7L673.0,504.4L676.0,505.2L679.1,506.0L682.1,506.8L685.2,507.6L688.2,508.4L691.2,509.2L694.3,509.9L697.3,510.7L700.4,511.5L703.4,512.3L706.4,513.2L709.5,514.0L712.5,514.8L715.5,515.6L718.6,516.4L721.6,517.2L724.7,518.0L727.7,518.8L730.7,519.6L733.8,520.5L736.8,521.3L739.8,522.0L742.9,522.8L745.9,523.6L748.9,524.4L752.0,525.2L755.0,525.9L758.1,526.7L761.1,527.4L764.1,528.1L767.2,528.9L770.2,529.6L773.2,530.3L776.3,530.9L779.3,531.6L782.4,532.3L785.4,532.9L788.4,533.5L791.5,534.1L794.5,534.7L797.6,535.3L800.6,535.8L803.6,536.3L806.7,536.8L809.7,537.3L812.7,537.8L815.8,538.3L818.8,538.8L821.9,539.3L824.9,539.7L827.9,540.2L831.0,540.6L834.0,541.1L837.0,541.5L840.1,541.9L843.1,542.4L846.2,542.8L849.2,543.2L852.2,543.6L855.3,544.0L858.3,544.4L861.3,544.8L864.4,545.2L867.4,545.6L870.5,545.9L873.5,546.3L876.5,546.7L879.6,547.0L882.6,547.4L885.6,547.8L888.7,548.1L891.7,548.5L894.8,548.8L897.8,549.1L900.8,549.5L903.9,549.8L906.9,550.2L909.9,550.5L913.0,550.8L916.0,551.2L919.1,551.5L922.1,551.8L925.1,552.2L928.2,552.5L931.2,552.8L934.2,553.2L937.3,553.5L940.3,553.8L943.4,554.2L946.4,554.5L949.4,554.9L952.5,555.2L955.5,555.6L958.5,556.0L961.6,556.3L964.6,556.7L967.7,557.0L970.7,557.4L973.7,557.8L976.8,558.1L979.8,558.5L982.8,558.8L985.9,559.2L988.9,559.5L992.0,559.8L995.0,560.2L998.0,560.5L1001.1,560.8L1004.1,561.1L1007.1,561.4L1010.2,561.7L1013.2,562.0L1016.2,562.3L1019.3,562.5L1022.3,562.8L1025.4,563.0L1028.4,563.2L1031.4,563.5L1034.5,563.7L1037.5,563.9L1040.6,564.0L1043.6,564.2L1046.6,564.3L1049.7,564.5L1052.7,564.6L1055.7,564.7L1058.8,564.7L1061.8,564.8L1064.8,564.9L1067.9,564.9L1070.9,565.0L1074.0,565.0L1077.0,565.1L1080.0,565.1L1083.1,565.2L1086.1,565.2L1089.2,565.2L1092.2,565.3L1095.2,565.3L1098.3,565.3L1101.3,565.4L1104.3,565.4L1107.4,565.4L1110.4,565.5L1113.5,565.5L1116.5,565.5L1119.5,565.6L1122.6,565.6L1125.6,565.7L1128.6,565.7L1131.7,565.7L1134.7,565.8L1137.8,565.8L1140.8,565.9L1143.8,565.9L1146.9,566.0L1149.9,566.0L1152.9,566.1L1156.0,566.1L1159.0,566.2L1162.1,566.2L1165.1,566.3L1168.1,566.3L1171.2,566.4L1174.2,566.4L1177.2,566.4L1180.3,566.5L1183.3,566.5L1186.3,566.5L1189.4,566.5L1192.4,566.6L1195.5,566.6L1198.5,566.6L1201.5,566.6L1204.6,566.6L1207.6,566.6L1210.7,566.6L1213.7,566.6L1216.7,566.6L1219.8,566.6L1222.8,566.6L1225.8,566.6L1228.9,566.6L1231.9,566.6L1235.0,566.6L1238.0,566.6L1241.0,566.6L1244.1,566.6L1247.1,566.6L1250.1,566.6L1253.2,566.6L1256.2,566.6L1259.2,566.6L1262.3,566.6L1265.3,566.6L1268.4,566.6L1271.4,566.6L1274.4,566.6L1277.5,566.6L1280.5,566.6L1283.6,566.6L1286.6,566.6L1289.6,566.6L1292.7,566.6L1295.7,566.6L1298.7,566.6L1301.8,566.6L1304.8,566.6L1307.9,566.6L1310.9,566.6L1313.9,566.6L1317.0,566.6L1320.0,566.6L1323.0,566.6L1326.1,566.6L1329.1,566.6L1332.1,566.6L1335.2,566.6L1338.2,566.6L1341.3,566.6L1344.3,566.6L1347.3,566.6L1350.4,566.6L1353.4,566.6L1356.5,566.6L1359.5,566.6L1362.5,566.6L1365.6,566.6L1368.6,566.6L1371.6,566.6L1374.7,566.6L1377.7,566.6L1380.8,566.6L1383.8,566.6L1386.8,566.6L1389.9,566.6L1392.9,566.6L1395.9,566.6L1399.0,566.6L1402.0,566.6L1405.1,566.6L1408.1,566.6L1411.1,566.6L1414.2,566.6L1417.2,566.6L1420.2,566.6L1423.3,566.6L1426.3,566.6L1429.4,566.6L1432.4,566.6L1435.4,566.6L1438.5,566.6L1441.5,566.6" fill="none" stroke="#F7942E" stroke-width="14.5" stroke-linejoin="round"/>
<path d="M216.2,971.7H236.8M216.2,993.7H236.8M239.9,950.6V951.4M239.9,981.0V981.8M229.6,950.6H250.2M229.6,981.8H250.2M256.9,918.5V919.3M256.9,948.9V949.7M246.6,918.5H267.2M246.6,949.7H267.2M276.9,890.1V891.8M276.9,921.4V923.1M266.6,890.1H287.2M266.6,923.1H287.2M297.6,863.5V866.1M297.6,895.7V898.3M287.3,863.5H307.9M287.3,898.3H307.9M317.6,833.3V838.6M317.6,868.2V873.6M307.3,833.3H327.9M307.3,873.6H327.9M348.0,804.9V815.7M348.0,845.3V856.2M337.7,804.9H358.3M337.7,856.2H358.3M378.4,773.7V794.6M378.4,824.2V845.2M368.1,773.7H388.7M368.1,845.2H388.7M408.8,750.8V772.7M408.8,802.3V824.1M398.4,750.8H419.1M398.4,824.1H419.1M439.1,726.0V751.6M439.1,781.2V806.7M428.8,726.0H449.4M428.8,806.7H449.4M469.5,708.6V736.0M469.5,765.6V793.0M459.2,708.6H479.8M459.2,793.0H479.8M499.9,689.4V719.5M499.9,749.1V779.2M489.6,689.4H510.2M489.6,779.2H510.2M530.2,672.9V702.1M530.2,731.7V760.9M520.0,672.9H540.5M520.0,760.9H540.5M560.6,665.6V690.2M560.6,719.8V744.4M550.3,665.6H570.9M550.3,744.4H570.9M591.0,650.0V677.3M591.0,706.9V734.3M580.7,650.0H601.3M580.7,734.3H601.3M621.4,638.1V661.8M621.4,691.4V715.0M611.1,638.1H631.7M611.1,715.0H631.7M651.8,625.2V646.2M651.8,675.8V696.7M641.5,625.2H662.0M641.5,696.7H662.0M682.1,620.6V636.1M682.1,665.7V681.1M671.8,620.6H692.4M671.8,681.1H692.4M712.5,611.5V626.0M712.5,655.6V670.1M702.2,611.5H722.8M702.2,670.1H722.8M742.9,606.9V616.8M742.9,646.4V656.4M732.6,606.9H753.2M732.6,656.4H753.2M773.2,600.5V608.6M773.2,638.2V646.3M763.0,600.5H783.5M763.0,646.3H783.5M803.6,597.7V601.3M803.6,630.9V634.4M793.3,597.7H813.9M793.3,634.4H813.9M834.0,592.2V593.9M834.0,623.5V625.2M823.7,592.2H844.3M823.7,625.2H844.3M854.1,590.4H874.7M854.1,617.9H874.7M884.5,586.7H905.0M884.5,612.4H905.0M914.8,584.0H935.4M914.8,609.7H935.4M945.2,581.8H965.8M945.2,607.2H965.8M975.6,580.2H996.2M975.6,605.4H996.2M1006.0,579.1H1026.5M1006.0,604.1H1026.5M1036.3,578.3H1056.9M1036.3,603.2H1056.9M1066.7,577.7H1087.3M1066.7,602.6H1087.3M1097.1,577.3H1117.7M1097.1,602.1H1117.7M1127.5,577.0H1148.0M1127.5,601.8H1148.0M1157.8,576.7H1178.4M1157.8,601.5H1178.4M1188.2,576.6H1208.8M1188.2,601.4H1208.8M1218.6,576.5H1239.2M1218.6,601.3H1239.2M1249.0,576.4H1269.5M1249.0,601.2H1269.5M1279.3,576.3H1299.9M1279.3,601.1H1299.9M1309.7,576.3H1330.3M1309.7,601.1H1330.3M1340.1,576.3H1360.7M1340.1,601.0H1360.7M1370.5,576.3H1391.0M1370.5,601.0H1391.0M1400.8,576.2H1421.4M1400.8,601.0H1421.4M1431.2,576.2H1451.8M1431.2,601.0H1451.8M226.5,876.5V883.7M216.2,847.0H236.8M216.2,883.7H236.8M239.9,813.1V815.9M239.9,847.2V858.9M229.6,813.1H250.2M229.6,858.9H250.2M256.9,787.5V790.2M256.9,821.5V833.3M246.6,787.5H267.2M246.6,833.3H267.2M276.9,768.2V768.2M276.9,799.5V808.5M266.6,768.2H287.2M266.6,808.5H287.2M297.6,779.4V786.5M287.3,749.9H307.9M287.3,786.5H307.9M317.6,760.1V765.5M307.3,732.5H327.9M307.3,765.5H327.9M348.0,741.8V747.1M337.7,714.1H358.3M337.7,747.1H358.3M378.4,691.2V694.0M378.4,725.3V737.0M368.1,691.2H388.7M368.1,737.0H388.7M408.8,679.3V679.3M408.8,710.6V719.6M398.4,679.3H419.1M398.4,719.6H419.1M439.1,666.5V666.5M439.1,697.8V706.8M428.8,666.5H449.4M428.8,706.8H449.4M469.5,684.0V692.1M459.2,653.6H479.8M459.2,692.1H479.8M499.9,641.7V643.6M499.9,674.9V685.7M489.6,641.7H510.2M489.6,685.7H510.2M530.2,632.6V632.6M530.2,663.9V672.9M520.0,632.6H540.5M520.0,672.9H540.5M560.6,623.4V623.4M560.6,654.7V663.7M550.3,623.4H570.9M550.3,663.7H570.9M591.0,614.2V614.2M591.0,645.5V654.6M580.7,614.2H601.3M580.7,654.6H601.3M621.4,637.3V642.6M611.1,609.7H631.7M611.1,642.6H631.7M651.8,629.0V633.5M641.5,602.3H662.0M641.5,633.5H662.0M682.1,620.8V624.3M671.8,595.0H692.4M671.8,624.3H692.4M712.5,615.3V617.9M702.2,590.4H722.8M702.2,617.9H722.8M742.9,611.6V612.4M732.6,588.6H753.2M732.6,612.4H753.2M763.0,585.8H783.5M763.0,607.8H783.5M803.6,604.3V605.1M793.3,581.2H813.9M793.3,605.1H813.9M834.0,601.6V602.3M823.7,578.5H844.3M823.7,602.3H844.3M864.4,599.2V600.0M854.1,576.2H874.7M854.1,600.0H874.7M894.8,597.5V598.3M884.5,574.5H905.0M884.5,598.3H905.0M925.1,596.3V597.1M914.8,573.3H935.4M914.8,597.1H935.4M955.5,595.5V596.2M945.2,572.4H965.8M945.2,596.2H965.8M985.9,594.9V595.6M975.6,571.8H996.2M975.6,595.6H996.2M1016.2,594.4V595.2M1006.0,571.4H1026.5M1006.0,595.2H1026.5M1046.6,594.1V594.9M1036.3,571.0H1056.9M1036.3,594.9H1056.9M1077.0,593.9V594.6M1066.7,570.8H1087.3M1066.7,594.6H1087.3M1107.4,593.7V594.5M1097.1,570.7H1117.7M1097.1,594.5H1117.7M1137.8,593.6V594.4M1127.5,570.5H1148.0M1127.5,594.4H1148.0M1168.1,593.5V594.3M1157.8,570.5H1178.4M1157.8,594.3H1178.4M1198.5,593.5V594.2M1188.2,570.4H1208.8M1188.2,594.2H1208.8M1228.9,593.4V594.2M1218.6,570.4H1239.2M1218.6,594.2H1239.2M1259.2,593.4V594.1M1249.0,570.3H1269.5M1249.0,594.1H1269.5M1289.6,593.4V594.1M1279.3,570.3H1299.9M1279.3,594.1H1299.9M1320.0,593.3V594.1M1309.7,570.3H1330.3M1309.7,594.1H1330.3M1350.4,593.3V594.1M1340.1,570.3H1360.7M1340.1,594.1H1360.7M1380.8,593.3V594.1M1370.5,570.3H1391.0M1370.5,594.1H1391.0M1411.1,593.3V594.1M1400.8,570.3H1421.4M1400.8,594.1H1421.4M1441.5,593.3V594.1M1431.2,570.3H1451.8M1431.2,594.1H1451.8M226.5,443.8V462.9M226.5,488.8V507.9M216.2,443.8H236.8M216.2,507.9H236.8M239.9,447.4V470.2M239.9,496.1V518.9M229.6,447.4H250.2M229.6,518.9H250.2M256.9,464.8V477.6M256.9,503.5V516.2M246.6,464.8H267.2M246.6,516.2H267.2M276.9,479.5V486.7M276.9,512.6V519.8M266.6,479.5H287.2M266.6,519.8H287.2M297.6,487.8V495.0M297.6,520.9V528.1M287.3,487.8H307.9M287.3,528.1H307.9M317.6,496.0V499.6M317.6,525.5V529.0M307.3,496.0H327.9M307.3,529.0H327.9M348.0,499.7V505.1M348.0,531.0V536.3M337.7,499.7H358.3M337.7,536.3H358.3M378.4,505.2V510.6M378.4,536.5V541.8M368.1,505.2H388.7M368.1,541.8H388.7M408.8,510.7V516.0M408.8,541.9V547.3M398.4,510.7H419.1M398.4,547.3H419.1M439.1,516.2V522.5M439.1,548.4V554.7M428.8,516.2H449.4M428.8,554.7H449.4M469.5,517.1V525.2M469.5,551.1V559.2M459.2,517.1H479.8M459.2,559.2H479.8M499.9,520.8V529.8M499.9,555.7V564.7M489.6,520.8H510.2M489.6,564.7H510.2M530.2,525.3V535.3M530.2,561.2V571.2M520.0,525.3H540.5M520.0,571.2H540.5M560.6,527.2V537.1M560.6,563.0V573.0M550.3,527.2H570.9M550.3,573.0H570.9M591.0,536.3V542.6M591.0,568.5V574.8M580.7,536.3H601.3M580.7,574.8H601.3M621.4,539.1V544.5M621.4,570.4V575.7M611.1,539.1H631.7M611.1,575.7H631.7M651.8,543.7V547.2M651.8,573.1V576.7M641.5,543.7H662.0M641.5,576.7H662.0M682.1,545.5V548.1M682.1,574.0V576.7M671.8,545.5H692.4M671.8,576.7H692.4M702.2,552.8H722.8M702.2,578.5H722.8M732.6,553.7H753.2M732.6,579.4H753.2M763.0,556.5H783.5M763.0,582.2H783.5M793.3,558.1H813.9M793.3,583.7H813.9M823.7,559.2H844.3M823.7,584.8H844.3M854.1,560.0H874.7M854.1,585.6H874.7M884.5,560.5H905.0M884.5,586.2H905.0M914.8,561.0H935.4M914.8,586.6H935.4M945.2,561.2H965.8M945.2,586.9H965.8M975.6,561.5H996.2M975.6,587.1H996.2M1006.0,561.6H1026.5M1006.0,587.3H1026.5M1036.3,561.7H1056.9M1036.3,587.4H1056.9M1066.7,561.8H1087.3M1066.7,587.5H1087.3M1097.1,561.9H1117.7M1097.1,587.5H1117.7M1127.5,561.9H1148.0M1127.5,587.6H1148.0M1157.8,561.9H1178.4M1157.8,587.6H1178.4M1188.2,561.9H1208.8M1188.2,587.6H1208.8M1218.6,562.0H1239.2M1218.6,587.6H1239.2M1249.0,562.0H1269.5M1249.0,587.6H1269.5M1279.3,562.0H1299.9M1279.3,587.6H1299.9M1309.7,562.0H1330.3M1309.7,587.6H1330.3M1340.1,562.0H1360.7M1340.1,587.6H1360.7M1370.5,562.0H1391.0M1370.5,587.6H1391.0M1400.8,562.0H1421.4M1400.8,587.7H1421.4M1431.2,562.0H1451.8M1431.2,587.7H1451.8M216.2,167.9H236.8M216.2,195.4H236.8M239.9,170.6V175.0M239.9,212.1V216.5M229.6,170.6H250.2M229.6,216.5H250.2M256.9,206.4V213.5M256.9,250.6V257.7M246.6,206.4H267.2M246.6,257.7H267.2M276.9,233.0V240.1M276.9,277.2V284.3M266.6,233.0H287.2M266.6,284.3H287.2M297.6,252.2V265.7M297.6,302.8V316.4M287.3,252.2H307.9M287.3,316.4H307.9M317.6,275.1V290.5M317.6,327.6V342.9M307.3,275.1H327.9M307.3,342.9H327.9M348.0,292.5V315.2M348.0,352.3V375.0M337.7,292.5H358.3M337.7,375.0H358.3M378.4,305.4V339.1M378.4,376.2V409.9M368.1,305.4H388.7M368.1,409.9H388.7M408.8,333.8V362.0M408.8,399.1V427.3M398.4,333.8H419.1M398.4,427.3H419.1M439.1,349.4V383.1M439.1,420.2V453.8M428.8,349.4H449.4M428.8,453.8H449.4M469.5,367.7V404.1M469.5,441.2V477.7M459.2,367.7H479.8M459.2,477.7H479.8M499.9,385.1V423.4M499.9,460.5V498.8M489.6,385.1H510.2M489.6,498.8H510.2M530.2,404.4V440.8M530.2,477.9V514.3M520.0,404.4H540.5M520.0,514.3H540.5M560.6,429.1V457.3M560.6,494.4V522.6M550.3,429.1H570.9M550.3,522.6H570.9M591.0,439.2V468.3M591.0,505.4V534.5M580.7,439.2H601.3M580.7,534.5H601.3M621.4,457.5V480.2M621.4,517.3V540.0M611.1,457.5H631.7M611.1,540.0H631.7M651.8,477.7V491.2M651.8,528.3V541.8M641.5,477.7H662.0M641.5,541.8H662.0M682.1,493.3V502.2M682.1,539.3V548.2M671.8,493.3H692.4M671.8,548.2H692.4M712.5,503.3V510.4M712.5,547.5V554.7M702.2,503.3H722.8M702.2,554.7H722.8M742.9,515.3V516.9M742.9,554.0V555.6M732.6,515.3H753.2M732.6,555.6H753.2M763.0,522.6H783.5M763.0,559.2H783.5M793.3,527.2H813.9M793.3,563.8H813.9M823.7,531.7H844.3M823.7,568.4H844.3M854.1,536.3H874.7M854.1,573.0H874.7M884.5,540.9H905.0M884.5,575.7H905.0M914.8,548.2H935.4M914.8,573.9H935.4M945.2,552.8H965.8M945.2,574.8H965.8M975.6,554.9H996.2M975.6,576.4H996.2M1006.0,556.4H1026.5M1006.0,577.5H1026.5M1036.3,557.5H1056.9M1036.3,578.3H1056.9M1066.7,558.2H1087.3M1066.7,578.9H1087.3M1097.1,558.8H1117.7M1097.1,579.3H1117.7M1127.5,559.2H1148.0M1127.5,579.6H1148.0M1157.8,559.4H1178.4M1157.8,579.8H1178.4M1188.2,559.7H1208.8M1188.2,579.9H1208.8M1218.6,559.8H1239.2M1218.6,580.0H1239.2M1249.0,559.9H1269.5M1249.0,580.1H1269.5M1279.3,560.0H1299.9M1279.3,580.2H1299.9M1309.7,560.0H1330.3M1309.7,580.2H1330.3M1340.1,560.1H1360.7M1340.1,580.3H1360.7M1370.5,560.1H1391.0M1370.5,580.3H1391.0M1400.8,560.1H1421.4M1400.8,580.3H1421.4M1431.2,560.1H1451.8M1431.2,580.3H1451.8" fill="none" stroke="#000" stroke-width="7" stroke-linecap="round"/>
</g>
<g clip-path="url(#cb)">
<circle cx="226.5" cy="1874.8" r="12.65" fill="#72D8F3" stroke="#000" stroke-width="4.3"/>
<circle cx="239.9" cy="1859.1" r="12.65" fill="#72D8F3" stroke="#000" stroke-width="4.3"/>
<circle cx="256.9" cy="1842.1" r="12.65" fill="#72D8F3" stroke="#000" stroke-width="4.3"/>
<circle cx="276.9" cy="1826.1" r="12.65" fill="#72D8F3" stroke="#000" stroke-width="4.3"/>
<circle cx="297.6" cy="1815.9" r="12.65" fill="#72D8F3" stroke="#000" stroke-width="4.3"/>
<circle cx="317.6" cy="1797.6" r="12.65" fill="#72D8F3" stroke="#000" stroke-width="4.3"/>
<circle cx="348.0" cy="1777.1" r="12.65" fill="#72D8F3" stroke="#000" stroke-width="4.3"/>
<circle cx="378.4" cy="1755.4" r="12.65" fill="#72D8F3" stroke="#000" stroke-width="4.3"/>
<circle cx="408.8" cy="1733.4" r="12.65" fill="#72D8F3" stroke="#000" stroke-width="4.3"/>
<circle cx="439.1" cy="1710.1" r="12.65" fill="#72D8F3" stroke="#000" stroke-width="4.3"/>
<circle cx="469.5" cy="1686.8" r="12.65" fill="#72D8F3" stroke="#000" stroke-width="4.3"/>
<circle cx="499.9" cy="1663.0" r="12.65" fill="#72D8F3" stroke="#000" stroke-width="4.3"/>
<circle cx="530.2" cy="1639.4" r="12.65" fill="#72D8F3" stroke="#000" stroke-width="4.3"/>
<circle cx="560.6" cy="1617.1" r="12.65" fill="#72D8F3" stroke="#000" stroke-width="4.3"/>
<circle cx="591.0" cy="1596.2" r="12.65" fill="#72D8F3" stroke="#000" stroke-width="4.3"/>
<circle cx="621.4" cy="1576.3" r="12.65" fill="#72D8F3" stroke="#000" stroke-width="4.3"/>
<circle cx="651.8" cy="1556.1" r="12.65" fill="#72D8F3" stroke="#000" stroke-width="4.3"/>
<circle cx="682.1" cy="1539.4" r="12.65" fill="#72D8F3" stroke="#000" stroke-width="4.3"/>
<circle cx="712.5" cy="1527.6" r="12.65" fill="#72D8F3" stroke="#000" stroke-width="4.3"/>
<circle cx="742.9" cy="1518.4" r="12.65" fill="#72D8F3" stroke="#000" stroke-width="4.3"/>
<circle cx="773.2" cy="1507.7" r="12.65" fill="#72D8F3" stroke="#000" stroke-width="4.3"/>
<circle cx="803.6" cy="1499.8" r="12.65" fill="#72D8F3" stroke="#000" stroke-width="4.3"/>
<circle cx="834.0" cy="1493.3" r="12.65" fill="#72D8F3" stroke="#000" stroke-width="4.3"/>
<circle cx="864.4" cy="1487.3" r="12.65" fill="#72D8F3" stroke="#000" stroke-width="4.3"/>
<circle cx="894.8" cy="1482.0" r="12.65" fill="#72D8F3" stroke="#000" stroke-width="4.3"/>
<circle cx="925.1" cy="1479.1" r="12.65" fill="#72D8F3" stroke="#000" stroke-width="4.3"/>
<circle cx="955.5" cy="1476.9" r="12.65" fill="#72D8F3" stroke="#000" stroke-width="4.3"/>
<circle cx="985.9" cy="1475.4" r="12.65" fill="#72D8F3" stroke="#000" stroke-width="4.3"/>
<circle cx="1016.2" cy="1474.3" r="12.65" fill="#72D8F3" stroke="#000" stroke-width="4.3"/>
<circle cx="1046.6" cy="1473.5" r="12.65" fill="#72D8F3" stroke="#000" stroke-width="4.3"/>
<circle cx="1077.0" cy="1473.0" r="12.65" fill="#72D8F3" stroke="#000" stroke-width="4.3"/>
<circle cx="1107.4" cy="1472.6" r="12.65" fill="#72D8F3" stroke="#000" stroke-width="4.3"/>
<circle cx="1137.8" cy="1472.3" r="12.65" fill="#72D8F3" stroke="#000" stroke-width="4.3"/>
<circle cx="1168.1" cy="1472.1" r="12.65" fill="#72D8F3" stroke="#000" stroke-width="4.3"/>
<circle cx="1198.5" cy="1471.9" r="12.65" fill="#72D8F3" stroke="#000" stroke-width="4.3"/>
<circle cx="1228.9" cy="1471.8" r="12.65" fill="#72D8F3" stroke="#000" stroke-width="4.3"/>
<circle cx="1259.2" cy="1471.7" r="12.65" fill="#72D8F3" stroke="#000" stroke-width="4.3"/>
<circle cx="1289.6" cy="1471.7" r="12.65" fill="#72D8F3" stroke="#000" stroke-width="4.3"/>
<circle cx="1320.0" cy="1471.6" r="12.65" fill="#72D8F3" stroke="#000" stroke-width="4.3"/>
<circle cx="1350.4" cy="1471.6" r="12.65" fill="#72D8F3" stroke="#000" stroke-width="4.3"/>
<circle cx="1380.8" cy="1471.6" r="12.65" fill="#72D8F3" stroke="#000" stroke-width="4.3"/>
<circle cx="1411.1" cy="1471.6" r="12.65" fill="#72D8F3" stroke="#000" stroke-width="4.3"/>
<circle cx="1441.5" cy="1471.6" r="12.65" fill="#72D8F3" stroke="#000" stroke-width="4.3"/>
<path d="M226.5,1752.1L243.3,1779.1L209.7,1779.1Z" fill="#F9A2C3" stroke="#000" stroke-width="4.3" stroke-linejoin="round"/>
<path d="M239.9,1728.5L256.7,1755.5L223.1,1755.5Z" fill="#F9A2C3" stroke="#000" stroke-width="4.3" stroke-linejoin="round"/>
<path d="M256.9,1704.9L273.7,1731.9L240.1,1731.9Z" fill="#F9A2C3" stroke="#000" stroke-width="4.3" stroke-linejoin="round"/>
<path d="M276.9,1679.8L293.7,1706.8L260.1,1706.8Z" fill="#F9A2C3" stroke="#000" stroke-width="4.3" stroke-linejoin="round"/>
<path d="M297.6,1655.7L314.4,1682.7L280.8,1682.7Z" fill="#F9A2C3" stroke="#000" stroke-width="4.3" stroke-linejoin="round"/>
<path d="M317.6,1632.9L334.4,1659.9L300.8,1659.9Z" fill="#F9A2C3" stroke="#000" stroke-width="4.3" stroke-linejoin="round"/>
<path d="M348.0,1611.7L364.8,1638.7L331.2,1638.7Z" fill="#F9A2C3" stroke="#000" stroke-width="4.3" stroke-linejoin="round"/>
<path d="M378.4,1592.3L395.2,1619.3L361.6,1619.3Z" fill="#F9A2C3" stroke="#000" stroke-width="4.3" stroke-linejoin="round"/>
<path d="M408.8,1574.8L425.6,1601.8L391.9,1601.8Z" fill="#F9A2C3" stroke="#000" stroke-width="4.3" stroke-linejoin="round"/>
<path d="M439.1,1557.0L455.9,1584.0L422.3,1584.0Z" fill="#F9A2C3" stroke="#000" stroke-width="4.3" stroke-linejoin="round"/>
<path d="M469.5,1542.6L486.3,1569.6L452.7,1569.6Z" fill="#F9A2C3" stroke="#000" stroke-width="4.3" stroke-linejoin="round"/>
<path d="M499.9,1527.9L516.7,1554.9L483.1,1554.9Z" fill="#F9A2C3" stroke="#000" stroke-width="4.3" stroke-linejoin="round"/>
<path d="M530.2,1515.3L547.0,1542.3L513.5,1542.3Z" fill="#F9A2C3" stroke="#000" stroke-width="4.3" stroke-linejoin="round"/>
<path d="M560.6,1505.9L577.4,1532.9L543.8,1532.9Z" fill="#F9A2C3" stroke="#000" stroke-width="4.3" stroke-linejoin="round"/>
<path d="M591.0,1496.5L607.8,1523.5L574.2,1523.5Z" fill="#F9A2C3" stroke="#000" stroke-width="4.3" stroke-linejoin="round"/>
<path d="M621.4,1483.9L638.2,1510.9L604.6,1510.9Z" fill="#F9A2C3" stroke="#000" stroke-width="4.3" stroke-linejoin="round"/>
<path d="M651.8,1474.0L668.5,1501.0L635.0,1501.0Z" fill="#F9A2C3" stroke="#000" stroke-width="4.3" stroke-linejoin="round"/>
<path d="M682.1,1468.0L698.9,1495.0L665.3,1495.0Z" fill="#F9A2C3" stroke="#000" stroke-width="4.3" stroke-linejoin="round"/>
<path d="M712.5,1464.0L729.3,1491.0L695.7,1491.0Z" fill="#F9A2C3" stroke="#000" stroke-width="4.3" stroke-linejoin="round"/>
<path d="M742.9,1461.4L759.7,1488.4L726.1,1488.4Z" fill="#F9A2C3" stroke="#000" stroke-width="4.3" stroke-linejoin="round"/>
<path d="M773.2,1458.8L790.0,1485.8L756.5,1485.8Z" fill="#F9A2C3" stroke="#000" stroke-width="4.3" stroke-linejoin="round"/>
<path d="M803.6,1456.9L820.4,1483.9L786.8,1483.9Z" fill="#F9A2C3" stroke="#000" stroke-width="4.3" stroke-linejoin="round"/>
<path d="M834.0,1455.6L850.8,1482.6L817.2,1482.6Z" fill="#F9A2C3" stroke="#000" stroke-width="4.3" stroke-linejoin="round"/>
<path d="M864.4,1454.6L881.2,1481.6L847.6,1481.6Z" fill="#F9A2C3" stroke="#000" stroke-width="4.3" stroke-linejoin="round"/>
<path d="M894.8,1454.0L911.5,1481.0L878.0,1481.0Z" fill="#F9A2C3" stroke="#000" stroke-width="4.3" stroke-linejoin="round"/>
<path d="M925.1,1453.5L941.9,1480.5L908.3,1480.5Z" fill="#F9A2C3" stroke="#000" stroke-width="4.3" stroke-linejoin="round"/>
<path d="M955.5,1453.1L972.3,1480.1L938.7,1480.1Z" fill="#F9A2C3" stroke="#000" stroke-width="4.3" stroke-linejoin="round"/>
<path d="M985.9,1452.9L1002.7,1479.9L969.1,1479.9Z" fill="#F9A2C3" stroke="#000" stroke-width="4.3" stroke-linejoin="round"/>
<path d="M1016.2,1452.7L1033.0,1479.7L999.5,1479.7Z" fill="#F9A2C3" stroke="#000" stroke-width="4.3" stroke-linejoin="round"/>
<path d="M1046.6,1452.6L1063.4,1479.6L1029.8,1479.6Z" fill="#F9A2C3" stroke="#000" stroke-width="4.3" stroke-linejoin="round"/>
<path d="M1077.0,1452.5L1093.8,1479.5L1060.2,1479.5Z" fill="#F9A2C3" stroke="#000" stroke-width="4.3" stroke-linejoin="round"/>
<path d="M1107.4,1452.4L1124.2,1479.4L1090.6,1479.4Z" fill="#F9A2C3" stroke="#000" stroke-width="4.3" stroke-linejoin="round"/>
<path d="M1137.8,1452.4L1154.5,1479.4L1121.0,1479.4Z" fill="#F9A2C3" stroke="#000" stroke-width="4.3" stroke-linejoin="round"/>
<path d="M1168.1,1452.3L1184.9,1479.3L1151.3,1479.3Z" fill="#F9A2C3" stroke="#000" stroke-width="4.3" stroke-linejoin="round"/>
<path d="M1198.5,1452.3L1215.3,1479.3L1181.7,1479.3Z" fill="#F9A2C3" stroke="#000" stroke-width="4.3" stroke-linejoin="round"/>
<path d="M1228.9,1452.3L1245.7,1479.3L1212.1,1479.3Z" fill="#F9A2C3" stroke="#000" stroke-width="4.3" stroke-linejoin="round"/>
<path d="M1259.2,1452.3L1276.0,1479.3L1242.5,1479.3Z" fill="#F9A2C3" stroke="#000" stroke-width="4.3" stroke-linejoin="round"/>
<path d="M1289.6,1452.3L1306.4,1479.3L1272.8,1479.3Z" fill="#F9A2C3" stroke="#000" stroke-width="4.3" stroke-linejoin="round"/>
<path d="M1320.0,1452.3L1336.8,1479.3L1303.2,1479.3Z" fill="#F9A2C3" stroke="#000" stroke-width="4.3" stroke-linejoin="round"/>
<path d="M1350.4,1452.3L1367.2,1479.3L1333.6,1479.3Z" fill="#F9A2C3" stroke="#000" stroke-width="4.3" stroke-linejoin="round"/>
<path d="M1380.8,1452.2L1397.5,1479.2L1364.0,1479.2Z" fill="#F9A2C3" stroke="#000" stroke-width="4.3" stroke-linejoin="round"/>
<path d="M1411.1,1452.2L1427.9,1479.2L1394.3,1479.2Z" fill="#F9A2C3" stroke="#000" stroke-width="4.3" stroke-linejoin="round"/>
<path d="M1441.5,1452.2L1458.3,1479.2L1424.7,1479.2Z" fill="#F9A2C3" stroke="#000" stroke-width="4.3" stroke-linejoin="round"/>
<rect x="215.7" y="1277.4" width="21.6" height="21.6" fill="#A8D5A0" stroke="#000" stroke-width="4.3" stroke-linejoin="round"/>
<rect x="229.1" y="1289.0" width="21.6" height="21.6" fill="#A8D5A0" stroke="#000" stroke-width="4.3" stroke-linejoin="round"/>
<rect x="246.1" y="1313.3" width="21.6" height="21.6" fill="#A8D5A0" stroke="#000" stroke-width="4.3" stroke-linejoin="round"/>
<rect x="266.1" y="1328.8" width="21.6" height="21.6" fill="#A8D5A0" stroke="#000" stroke-width="4.3" stroke-linejoin="round"/>
<rect x="286.8" y="1345.0" width="21.6" height="21.6" fill="#A8D5A0" stroke="#000" stroke-width="4.3" stroke-linejoin="round"/>
<rect x="306.8" y="1356.8" width="21.6" height="21.6" fill="#A8D5A0" stroke="#000" stroke-width="4.3" stroke-linejoin="round"/>
<rect x="337.2" y="1370.4" width="21.6" height="21.6" fill="#A8D5A0" stroke="#000" stroke-width="4.3" stroke-linejoin="round"/>
<rect x="367.6" y="1384.0" width="21.6" height="21.6" fill="#A8D5A0" stroke="#000" stroke-width="4.3" stroke-linejoin="round"/>
<rect x="397.9" y="1394.5" width="21.6" height="21.6" fill="#A8D5A0" stroke="#000" stroke-width="4.3" stroke-linejoin="round"/>
<rect x="428.3" y="1407.1" width="21.6" height="21.6" fill="#A8D5A0" stroke="#000" stroke-width="4.3" stroke-linejoin="round"/>
<rect x="458.7" y="1420.2" width="21.6" height="21.6" fill="#A8D5A0" stroke="#000" stroke-width="4.3" stroke-linejoin="round"/>
<rect x="489.1" y="1429.3" width="21.6" height="21.6" fill="#A8D5A0" stroke="#000" stroke-width="4.3" stroke-linejoin="round"/>
<rect x="519.5" y="1437.4" width="21.6" height="21.6" fill="#A8D5A0" stroke="#000" stroke-width="4.3" stroke-linejoin="round"/>
<rect x="549.8" y="1441.6" width="21.6" height="21.6" fill="#A8D5A0" stroke="#000" stroke-width="4.3" stroke-linejoin="round"/>
<rect x="580.2" y="1449.0" width="21.6" height="21.6" fill="#A8D5A0" stroke="#000" stroke-width="4.3" stroke-linejoin="round"/>
<rect x="610.6" y="1456.3" width="21.6" height="21.6" fill="#A8D5A0" stroke="#000" stroke-width="4.3" stroke-linejoin="round"/>
<rect x="641.0" y="1458.4" width="21.6" height="21.6" fill="#A8D5A0" stroke="#000" stroke-width="4.3" stroke-linejoin="round"/>
<rect x="671.3" y="1460.2" width="21.6" height="21.6" fill="#A8D5A0" stroke="#000" stroke-width="4.3" stroke-linejoin="round"/>
<rect x="701.7" y="1461.5" width="21.6" height="21.6" fill="#A8D5A0" stroke="#000" stroke-width="4.3" stroke-linejoin="round"/>
<rect x="732.1" y="1463.4" width="21.6" height="21.6" fill="#A8D5A0" stroke="#000" stroke-width="4.3" stroke-linejoin="round"/>
<rect x="762.5" y="1461.5" width="21.6" height="21.6" fill="#A8D5A0" stroke="#000" stroke-width="4.3" stroke-linejoin="round"/>
<rect x="792.8" y="1460.2" width="21.6" height="21.6" fill="#A8D5A0" stroke="#000" stroke-width="4.3" stroke-linejoin="round"/>
<rect x="823.2" y="1459.2" width="21.6" height="21.6" fill="#A8D5A0" stroke="#000" stroke-width="4.3" stroke-linejoin="round"/>
<rect x="853.6" y="1458.5" width="21.6" height="21.6" fill="#A8D5A0" stroke="#000" stroke-width="4.3" stroke-linejoin="round"/>
<rect x="884.0" y="1458.1" width="21.6" height="21.6" fill="#A8D5A0" stroke="#000" stroke-width="4.3" stroke-linejoin="round"/>
<rect x="914.3" y="1457.7" width="21.6" height="21.6" fill="#A8D5A0" stroke="#000" stroke-width="4.3" stroke-linejoin="round"/>
<rect x="944.7" y="1457.5" width="21.6" height="21.6" fill="#A8D5A0" stroke="#000" stroke-width="4.3" stroke-linejoin="round"/>
<rect x="975.1" y="1457.3" width="21.6" height="21.6" fill="#A8D5A0" stroke="#000" stroke-width="4.3" stroke-linejoin="round"/>
<rect x="1005.5" y="1457.1" width="21.6" height="21.6" fill="#A8D5A0" stroke="#000" stroke-width="4.3" stroke-linejoin="round"/>
<rect x="1035.8" y="1457.1" width="21.6" height="21.6" fill="#A8D5A0" stroke="#000" stroke-width="4.3" stroke-linejoin="round"/>
<rect x="1066.2" y="1457.0" width="21.6" height="21.6" fill="#A8D5A0" stroke="#000" stroke-width="4.3" stroke-linejoin="round"/>
<rect x="1096.6" y="1456.9" width="21.6" height="21.6" fill="#A8D5A0" stroke="#000" stroke-width="4.3" stroke-linejoin="round"/>
<rect x="1127.0" y="1456.9" width="21.6" height="21.6" fill="#A8D5A0" stroke="#000" stroke-width="4.3" stroke-linejoin="round"/>
<rect x="1157.3" y="1456.9" width="21.6" height="21.6" fill="#A8D5A0" stroke="#000" stroke-width="4.3" stroke-linejoin="round"/>
<rect x="1187.7" y="1456.9" width="21.6" height="21.6" fill="#A8D5A0" stroke="#000" stroke-width="4.3" stroke-linejoin="round"/>
<rect x="1218.1" y="1456.9" width="21.6" height="21.6" fill="#A8D5A0" stroke="#000" stroke-width="4.3" stroke-linejoin="round"/>
<rect x="1248.5" y="1456.8" width="21.6" height="21.6" fill="#A8D5A0" stroke="#000" stroke-width="4.3" stroke-linejoin="round"/>
<rect x="1278.8" y="1456.8" width="21.6" height="21.6" fill="#A8D5A0" stroke="#000" stroke-width="4.3" stroke-linejoin="round"/>
<rect x="1309.2" y="1456.8" width="21.6" height="21.6" fill="#A8D5A0" stroke="#000" stroke-width="4.3" stroke-linejoin="round"/>
<rect x="1339.6" y="1456.8" width="21.6" height="21.6" fill="#A8D5A0" stroke="#000" stroke-width="4.3" stroke-linejoin="round"/>
<rect x="1370.0" y="1456.8" width="21.6" height="21.6" fill="#A8D5A0" stroke="#000" stroke-width="4.3" stroke-linejoin="round"/>
<rect x="1400.3" y="1456.8" width="21.6" height="21.6" fill="#A8D5A0" stroke="#000" stroke-width="4.3" stroke-linejoin="round"/>
<rect x="1430.7" y="1456.8" width="21.6" height="21.6" fill="#A8D5A0" stroke="#000" stroke-width="4.3" stroke-linejoin="round"/>
<path d="M226.5,1067.6L242.9,1084.0L226.5,1100.4L210.1,1084.0Z" fill="#FBC596" stroke="#000" stroke-width="4.3" stroke-linejoin="round"/>
<path d="M239.9,1088.5L256.3,1104.9L239.9,1121.3L223.5,1104.9Z" fill="#FBC596" stroke="#000" stroke-width="4.3" stroke-linejoin="round"/>
<path d="M256.9,1117.4L273.3,1133.8L256.9,1150.2L240.5,1133.8Z" fill="#FBC596" stroke="#000" stroke-width="4.3" stroke-linejoin="round"/>
<path d="M276.9,1136.5L293.3,1152.9L276.9,1169.3L260.5,1152.9Z" fill="#FBC596" stroke="#000" stroke-width="4.3" stroke-linejoin="round"/>
<path d="M297.6,1157.7L314.0,1174.1L297.6,1190.5L281.2,1174.1Z" fill="#FBC596" stroke="#000" stroke-width="4.3" stroke-linejoin="round"/>
<path d="M317.6,1180.2L334.0,1196.6L317.6,1213.0L301.2,1196.6Z" fill="#FBC596" stroke="#000" stroke-width="4.3" stroke-linejoin="round"/>
<path d="M348.0,1203.5L364.4,1219.9L348.0,1236.3L331.6,1219.9Z" fill="#FBC596" stroke="#000" stroke-width="4.3" stroke-linejoin="round"/>
<path d="M378.4,1230.7L394.8,1247.1L378.4,1263.5L362.0,1247.1Z" fill="#FBC596" stroke="#000" stroke-width="4.3" stroke-linejoin="round"/>
<path d="M408.8,1260.1L425.1,1276.5L408.8,1292.9L392.4,1276.5Z" fill="#FBC596" stroke="#000" stroke-width="4.3" stroke-linejoin="round"/>
<path d="M439.1,1289.9L455.5,1306.3L439.1,1322.7L422.7,1306.3Z" fill="#FBC596" stroke="#000" stroke-width="4.3" stroke-linejoin="round"/>
<path d="M469.5,1320.6L485.9,1337.0L469.5,1353.4L453.1,1337.0Z" fill="#FBC596" stroke="#000" stroke-width="4.3" stroke-linejoin="round"/>
<path d="M499.9,1347.0L516.3,1363.4L499.9,1379.8L483.5,1363.4Z" fill="#FBC596" stroke="#000" stroke-width="4.3" stroke-linejoin="round"/>
<path d="M530.2,1372.1L546.6,1388.5L530.2,1404.9L513.9,1388.5Z" fill="#FBC596" stroke="#000" stroke-width="4.3" stroke-linejoin="round"/>
<path d="M560.6,1394.7L577.0,1411.1L560.6,1427.5L544.2,1411.1Z" fill="#FBC596" stroke="#000" stroke-width="4.3" stroke-linejoin="round"/>
<path d="M591.0,1408.0L607.4,1424.4L591.0,1440.8L574.6,1424.4Z" fill="#FBC596" stroke="#000" stroke-width="4.3" stroke-linejoin="round"/>
<path d="M621.4,1422.4L637.8,1438.8L621.4,1455.2L605.0,1438.8Z" fill="#FBC596" stroke="#000" stroke-width="4.3" stroke-linejoin="round"/>
<path d="M651.8,1431.3L668.1,1447.7L651.8,1464.1L635.4,1447.7Z" fill="#FBC596" stroke="#000" stroke-width="4.3" stroke-linejoin="round"/>
<path d="M682.1,1435.8L698.5,1452.2L682.1,1468.6L665.7,1452.2Z" fill="#FBC596" stroke="#000" stroke-width="4.3" stroke-linejoin="round"/>
<path d="M712.5,1439.2L728.9,1455.6L712.5,1472.0L696.1,1455.6Z" fill="#FBC596" stroke="#000" stroke-width="4.3" stroke-linejoin="round"/>
<path d="M742.9,1441.3L759.3,1457.7L742.9,1474.1L726.5,1457.7Z" fill="#FBC596" stroke="#000" stroke-width="4.3" stroke-linejoin="round"/>
<path d="M773.2,1443.6L789.6,1460.0L773.2,1476.4L756.9,1460.0Z" fill="#FBC596" stroke="#000" stroke-width="4.3" stroke-linejoin="round"/>
<path d="M803.6,1444.7L820.0,1461.1L803.6,1477.5L787.2,1461.1Z" fill="#FBC596" stroke="#000" stroke-width="4.3" stroke-linejoin="round"/>
<path d="M834.0,1447.0L850.4,1463.4L834.0,1479.8L817.6,1463.4Z" fill="#FBC596" stroke="#000" stroke-width="4.3" stroke-linejoin="round"/>
<path d="M864.4,1449.1L880.8,1465.5L864.4,1481.9L848.0,1465.5Z" fill="#FBC596" stroke="#000" stroke-width="4.3" stroke-linejoin="round"/>
<path d="M894.8,1449.2L911.1,1465.6L894.8,1482.0L878.4,1465.6Z" fill="#FBC596" stroke="#000" stroke-width="4.3" stroke-linejoin="round"/>
<path d="M925.1,1449.3L941.5,1465.7L925.1,1482.1L908.7,1465.7Z" fill="#FBC596" stroke="#000" stroke-width="4.3" stroke-linejoin="round"/>
<path d="M955.5,1449.3L971.9,1465.7L955.5,1482.1L939.1,1465.7Z" fill="#FBC596" stroke="#000" stroke-width="4.3" stroke-linejoin="round"/>
<path d="M985.9,1449.3L1002.3,1465.7L985.9,1482.1L969.5,1465.7Z" fill="#FBC596" stroke="#000" stroke-width="4.3" stroke-linejoin="round"/>
<path d="M1016.2,1449.3L1032.7,1465.7L1016.2,1482.1L999.9,1465.7Z" fill="#FBC596" stroke="#000" stroke-width="4.3" stroke-linejoin="round"/>
<path d="M1046.6,1449.4L1063.0,1465.8L1046.6,1482.2L1030.2,1465.8Z" fill="#FBC596" stroke="#000" stroke-width="4.3" stroke-linejoin="round"/>
<path d="M1077.0,1449.4L1093.4,1465.8L1077.0,1482.2L1060.6,1465.8Z" fill="#FBC596" stroke="#000" stroke-width="4.3" stroke-linejoin="round"/>
<path d="M1107.4,1449.4L1123.8,1465.8L1107.4,1482.2L1091.0,1465.8Z" fill="#FBC596" stroke="#000" stroke-width="4.3" stroke-linejoin="round"/>
<path d="M1137.8,1449.4L1154.2,1465.8L1137.8,1482.2L1121.3,1465.8Z" fill="#FBC596" stroke="#000" stroke-width="4.3" stroke-linejoin="round"/>
<path d="M1168.1,1449.4L1184.5,1465.8L1168.1,1482.2L1151.7,1465.8Z" fill="#FBC596" stroke="#000" stroke-width="4.3" stroke-linejoin="round"/>
<path d="M1198.5,1449.4L1214.9,1465.8L1198.5,1482.2L1182.1,1465.8Z" fill="#FBC596" stroke="#000" stroke-width="4.3" stroke-linejoin="round"/>
<path d="M1228.9,1449.4L1245.3,1465.8L1228.9,1482.2L1212.5,1465.8Z" fill="#FBC596" stroke="#000" stroke-width="4.3" stroke-linejoin="round"/>
<path d="M1259.2,1449.4L1275.7,1465.8L1259.2,1482.2L1242.8,1465.8Z" fill="#FBC596" stroke="#000" stroke-width="4.3" stroke-linejoin="round"/>
<path d="M1289.6,1449.4L1306.0,1465.8L1289.6,1482.2L1273.2,1465.8Z" fill="#FBC596" stroke="#000" stroke-width="4.3" stroke-linejoin="round"/>
<path d="M1320.0,1449.4L1336.4,1465.8L1320.0,1482.2L1303.6,1465.8Z" fill="#FBC596" stroke="#000" stroke-width="4.3" stroke-linejoin="round"/>
<path d="M1350.4,1449.4L1366.8,1465.8L1350.4,1482.2L1334.0,1465.8Z" fill="#FBC596" stroke="#000" stroke-width="4.3" stroke-linejoin="round"/>
<path d="M1380.8,1449.4L1397.2,1465.8L1380.8,1482.2L1364.3,1465.8Z" fill="#FBC596" stroke="#000" stroke-width="4.3" stroke-linejoin="round"/>
<path d="M1411.1,1449.4L1427.5,1465.8L1411.1,1482.2L1394.7,1465.8Z" fill="#FBC596" stroke="#000" stroke-width="4.3" stroke-linejoin="round"/>
<path d="M1441.5,1449.4L1457.9,1465.8L1441.5,1482.2L1425.1,1465.8Z" fill="#FBC596" stroke="#000" stroke-width="4.3" stroke-linejoin="round"/>
<path d="M226.5,1870.9L229.5,1869.9L232.6,1868.7L235.6,1867.4L238.7,1866.0L241.7,1864.4L244.7,1862.8L247.8,1860.9L250.8,1858.9L253.8,1856.7L256.9,1854.3L259.9,1851.7L262.9,1848.7L266.0,1845.3L269.0,1841.6L272.1,1837.8L275.1,1833.8L278.1,1830.0L281.2,1826.2L284.2,1822.4L287.2,1818.5L290.3,1814.5L293.3,1810.6L296.4,1806.6L299.4,1802.7L302.4,1798.8L305.5,1795.1L308.5,1791.3L311.6,1787.5L314.6,1783.7L317.6,1779.9L320.7,1776.1L323.7,1772.3L326.7,1768.5L329.8,1764.8L332.8,1761.1L335.9,1757.4L338.9,1753.7L341.9,1750.1L345.0,1746.5L348.0,1743.0L351.0,1739.4L354.1,1736.0L357.1,1732.6L360.1,1729.2L363.2,1725.9L366.2,1722.7L369.3,1719.4L372.3,1716.2L375.3,1713.0L378.4,1709.9L381.4,1706.8L384.5,1703.7L387.5,1700.7L390.5,1697.7L393.6,1694.7L396.6,1691.8L399.6,1689.0L402.7,1686.2L405.7,1683.5L408.8,1680.8L411.8,1678.1L414.8,1675.6L417.9,1673.0L420.9,1670.5L423.9,1668.0L427.0,1665.6L430.0,1663.2L433.1,1660.8L436.1,1658.5L439.1,1656.2L442.2,1653.9L445.2,1651.6L448.2,1649.3L451.3,1647.1L454.3,1644.9L457.4,1642.7L460.4,1640.5L463.4,1638.3L466.5,1636.1L469.5,1633.9L472.5,1631.7L475.6,1629.5L478.6,1627.3L481.6,1625.1L484.7,1622.8L487.7,1620.6L490.8,1618.4L493.8,1616.1L496.8,1613.9L499.9,1611.7L502.9,1609.5L506.0,1607.3L509.0,1605.1L512.0,1602.9L515.1,1600.8L518.1,1598.7L521.1,1596.7L524.2,1594.6L527.2,1592.6L530.2,1590.7L533.3,1588.8L536.3,1586.9L539.4,1585.1L542.4,1583.3L545.4,1581.6L548.5,1580.0L551.5,1578.4L554.5,1576.9L557.6,1575.5L560.6,1574.1L563.7,1572.7L566.7,1571.4L569.7,1570.2L572.8,1568.9L575.8,1567.7L578.9,1566.5L581.9,1565.3L584.9,1564.2L588.0,1563.1L591.0,1562.0L594.0,1560.9L597.1,1559.9L600.1,1558.8L603.2,1557.8L606.2,1556.8L609.2,1555.8L612.3,1554.8L615.3,1553.8L618.3,1552.8L621.4,1551.8L624.4,1550.9L627.5,1549.9L630.5,1548.9L633.5,1548.0L636.6,1547.0L639.6,1546.0L642.6,1545.0L645.7,1544.0L648.7,1543.0L651.8,1542.1L654.8,1541.1L657.8,1540.1L660.9,1539.2L663.9,1538.2L666.9,1537.3L670.0,1536.3L673.0,1535.4L676.0,1534.5L679.1,1533.6L682.1,1532.7L685.2,1531.8L688.2,1530.9L691.2,1530.0L694.3,1529.1L697.3,1528.2L700.4,1527.4L703.4,1526.5L706.4,1525.7L709.5,1524.9L712.5,1524.1L715.5,1523.3L718.6,1522.5L721.6,1521.7L724.7,1520.9L727.7,1520.1L730.7,1519.4L733.8,1518.6L736.8,1517.9L739.8,1517.1L742.9,1516.4L745.9,1515.7L748.9,1514.9L752.0,1514.2L755.0,1513.5L758.1,1512.8L761.1,1512.1L764.1,1511.4L767.2,1510.8L770.2,1510.1L773.2,1509.4L776.3,1508.7L779.3,1508.1L782.4,1507.4L785.4,1506.8L788.4,1506.1L791.5,1505.4L794.5,1504.8L797.6,1504.2L800.6,1503.5L803.6,1502.9L806.7,1502.3L809.7,1501.6L812.7,1501.0L815.8,1500.4L818.8,1499.8L821.9,1499.2L824.9,1498.6L827.9,1498.0L831.0,1497.4L834.0,1496.9L837.0,1496.3L840.1,1495.7L843.1,1495.1L846.2,1494.5L849.2,1493.9L852.2,1493.3L855.3,1492.7L858.3,1492.1L861.3,1491.5L864.4,1490.9L867.4,1490.3L870.5,1489.6L873.5,1489.0L876.5,1488.4L879.6,1487.8L882.6,1487.1L885.6,1486.5L888.7,1485.8L891.7,1485.2L894.8,1484.6L897.8,1483.9L900.8,1483.3L903.9,1482.7L906.9,1482.1L909.9,1481.4L913.0,1480.8L916.0,1480.2L919.1,1479.6L922.1,1479.0L925.1,1478.4L928.2,1477.9L931.2,1477.3L934.2,1476.8L937.3,1476.2L940.3,1475.7L943.4,1475.2L946.4,1474.7L949.4,1474.2L952.5,1473.7L955.5,1473.2L958.5,1472.8L961.6,1472.4L964.6,1471.9L967.7,1471.5L970.7,1471.2L973.7,1470.8L976.8,1470.4L979.8,1470.0L982.8,1469.7L985.9,1469.3L988.9,1468.9L992.0,1468.6L995.0,1468.2L998.0,1467.9L1001.1,1467.5L1004.1,1467.2L1007.1,1466.8L1010.2,1466.5L1013.2,1466.2L1016.2,1465.9L1019.3,1465.6L1022.3,1465.2L1025.4,1464.9L1028.4,1464.7L1031.4,1464.4L1034.5,1464.1L1037.5,1463.8L1040.6,1463.6L1043.6,1463.3L1046.6,1463.1L1049.7,1462.8L1052.7,1462.6L1055.7,1462.4L1058.8,1462.1L1061.8,1461.9L1064.8,1461.8L1067.9,1461.6L1070.9,1461.4L1074.0,1461.2L1077.0,1461.1L1080.0,1460.9L1083.1,1460.8L1086.1,1460.6L1089.2,1460.5L1092.2,1460.4L1095.2,1460.2L1098.3,1460.1L1101.3,1459.9L1104.3,1459.8L1107.4,1459.7L1110.4,1459.5L1113.5,1459.4L1116.5,1459.3L1119.5,1459.2L1122.6,1459.0L1125.6,1458.9L1128.6,1458.8L1131.7,1458.7L1134.7,1458.6L1137.8,1458.5L1140.8,1458.4L1143.8,1458.3L1146.9,1458.2L1149.9,1458.1L1152.9,1458.0L1156.0,1457.9L1159.0,1457.8L1162.1,1457.7L1165.1,1457.7L1168.1,1457.6L1171.2,1457.5L1174.2,1457.5L1177.2,1457.4L1180.3,1457.4L1183.3,1457.3L1186.3,1457.3L1189.4,1457.2L1192.4,1457.2L1195.5,1457.2L1198.5,1457.1L1201.5,1457.1L1204.6,1457.1L1207.6,1457.1L1210.7,1457.1L1213.7,1457.1L1216.7,1457.0L1219.8,1457.0L1222.8,1457.0L1225.8,1457.0L1228.9,1457.0L1231.9,1456.9L1235.0,1456.9L1238.0,1456.9L1241.0,1456.9L1244.1,1456.9L1247.1,1456.9L1250.1,1456.8L1253.2,1456.8L1256.2,1456.8L1259.2,1456.8L1262.3,1456.8L1265.3,1456.8L1268.4,1456.8L1271.4,1456.7L1274.4,1456.7L1277.5,1456.7L1280.5,1456.7L1283.6,1456.7L1286.6,1456.7L1289.6,1456.7L1292.7,1456.7L1295.7,1456.6L1298.7,1456.6L1301.8,1456.6L1304.8,1456.6L1307.9,1456.6L1310.9,1456.6L1313.9,1456.6L1317.0,1456.6L1320.0,1456.6L1323.0,1456.5L1326.1,1456.5L1329.1,1456.5L1332.1,1456.5L1335.2,1456.5L1338.2,1456.5L1341.3,1456.5L1344.3,1456.5L1347.3,1456.5L1350.4,1456.5L1353.4,1456.5L1356.5,1456.5L1359.5,1456.5L1362.5,1456.4L1365.6,1456.4L1368.6,1456.4L1371.6,1456.4L1374.7,1456.4L1377.7,1456.4L1380.8,1456.4L1383.8,1456.4L1386.8,1456.4L1389.9,1456.4L1392.9,1456.4L1395.9,1456.4L1399.0,1456.4L1402.0,1456.4L1405.1,1456.4L1408.1,1456.4L1411.1,1456.4L1414.2,1456.4L1417.2,1456.4L1420.2,1456.4L1423.3,1456.4L1426.3,1456.4L1429.4,1456.4L1432.4,1456.4L1435.4,1456.4L1438.5,1456.4L1441.5,1456.4" fill="none" stroke="#00AEE8" stroke-width="14.5" stroke-linejoin="round"/>
<path d="M226.5,1764.8L229.5,1759.9L232.6,1755.0L235.6,1750.1L238.7,1745.4L241.7,1740.7L244.7,1736.2L247.8,1731.8L250.8,1727.6L253.8,1723.4L256.9,1719.5L259.9,1715.8L262.9,1712.1L266.0,1708.6L269.0,1705.1L272.1,1701.7L275.1,1698.3L278.1,1695.1L281.2,1691.8L284.2,1688.7L287.2,1685.6L290.3,1682.6L293.3,1679.7L296.4,1676.8L299.4,1674.0L302.4,1671.2L305.5,1668.5L308.5,1665.9L311.6,1663.3L314.6,1660.7L317.6,1658.3L320.7,1655.8L323.7,1653.4L326.7,1651.1L329.8,1648.7L332.8,1646.4L335.9,1644.1L338.9,1641.9L341.9,1639.7L345.0,1637.5L348.0,1635.3L351.0,1633.2L354.1,1631.1L357.1,1629.0L360.1,1626.9L363.2,1624.9L366.2,1622.9L369.3,1620.9L372.3,1618.9L375.3,1617.0L378.4,1615.0L381.4,1613.1L384.5,1611.3L387.5,1609.4L390.5,1607.5L393.6,1605.7L396.6,1603.9L399.6,1602.1L402.7,1600.3L405.7,1598.6L408.8,1596.8L411.8,1595.1L414.8,1593.4L417.9,1591.7L420.9,1590.0L423.9,1588.3L427.0,1586.6L430.0,1584.9L433.1,1583.3L436.1,1581.7L439.1,1580.2L442.2,1578.7L445.2,1577.2L448.2,1575.8L451.3,1574.4L454.3,1573.0L457.4,1571.6L460.4,1570.2L463.4,1568.8L466.5,1567.4L469.5,1566.0L472.5,1564.6L475.6,1563.2L478.6,1561.8L481.6,1560.4L484.7,1559.0L487.7,1557.7L490.8,1556.3L493.8,1554.9L496.8,1553.6L499.9,1552.2L502.9,1550.9L506.0,1549.5L509.0,1548.2L512.0,1546.9L515.1,1545.6L518.1,1544.3L521.1,1543.1L524.2,1541.8L527.2,1540.6L530.2,1539.4L533.3,1538.2L536.3,1537.0L539.4,1535.9L542.4,1534.7L545.4,1533.6L548.5,1532.5L551.5,1531.5L554.5,1530.5L557.6,1529.5L560.6,1528.5L563.7,1527.5L566.7,1526.6L569.7,1525.7L572.8,1524.8L575.8,1524.0L578.9,1523.2L581.9,1522.4L584.9,1521.6L588.0,1520.9L591.0,1520.1L594.0,1519.4L597.1,1518.6L600.1,1517.9L603.2,1517.2L606.2,1516.5L609.2,1515.8L612.3,1515.1L615.3,1514.5L618.3,1513.8L621.4,1513.2L624.4,1512.5L627.5,1511.9L630.5,1511.3L633.5,1510.7L636.6,1510.1L639.6,1509.5L642.6,1508.9L645.7,1508.3L648.7,1507.8L651.8,1507.2L654.8,1506.7L657.8,1506.1L660.9,1505.6L663.9,1505.0L666.9,1504.5L670.0,1504.0L673.0,1503.4L676.0,1502.9L679.1,1502.4L682.1,1501.9L685.2,1501.4L688.2,1500.9L691.2,1500.4L694.3,1499.9L697.3,1499.4L700.4,1498.9L703.4,1498.5L706.4,1498.0L709.5,1497.5L712.5,1497.0L715.5,1496.6L718.6,1496.1L721.6,1495.7L724.7,1495.2L727.7,1494.8L730.7,1494.4L733.8,1493.9L736.8,1493.5L739.8,1493.1L742.9,1492.7L745.9,1492.3L748.9,1491.9L752.0,1491.5L755.0,1491.1L758.1,1490.7L761.1,1490.3L764.1,1489.9L767.2,1489.5L770.2,1489.1L773.2,1488.7L776.3,1488.4L779.3,1488.0L782.4,1487.6L785.4,1487.3L788.4,1486.9L791.5,1486.6L794.5,1486.2L797.6,1485.9L800.6,1485.5L803.6,1485.2L806.7,1484.9L809.7,1484.6L812.7,1484.3L815.8,1483.9L818.8,1483.6L821.9,1483.3L824.9,1483.0L827.9,1482.8L831.0,1482.5L834.0,1482.2L837.0,1481.9L840.1,1481.6L843.1,1481.3L846.2,1481.0L849.2,1480.7L852.2,1480.5L855.3,1480.2L858.3,1479.9L861.3,1479.6L864.4,1479.3L867.4,1479.0L870.5,1478.7L873.5,1478.4L876.5,1478.0L879.6,1477.7L882.6,1477.4L885.6,1477.0L888.7,1476.6L891.7,1476.3L894.8,1475.9L897.8,1475.5L900.8,1475.1L903.9,1474.7L906.9,1474.3L909.9,1474.0L913.0,1473.6L916.0,1473.2L919.1,1472.8L922.1,1472.4L925.1,1472.0L928.2,1471.6L931.2,1471.2L934.2,1470.9L937.3,1470.5L940.3,1470.2L943.4,1469.8L946.4,1469.5L949.4,1469.2L952.5,1468.9L955.5,1468.6L958.5,1468.3L961.6,1468.1L964.6,1467.8L967.7,1467.6L970.7,1467.4L973.7,1467.2L976.8,1467.0L979.8,1466.8L982.8,1466.6L985.9,1466.4L988.9,1466.2L992.0,1466.1L995.0,1465.9L998.0,1465.7L1001.1,1465.5L1004.1,1465.4L1007.1,1465.2L1010.2,1465.0L1013.2,1464.9L1016.2,1464.7L1019.3,1464.6L1022.3,1464.4L1025.4,1464.3L1028.4,1464.1L1031.4,1464.0L1034.5,1463.9L1037.5,1463.7L1040.6,1463.6L1043.6,1463.5L1046.6,1463.4L1049.7,1463.2L1052.7,1463.1L1055.7,1463.0L1058.8,1462.9L1061.8,1462.8L1064.8,1462.7L1067.9,1462.6L1070.9,1462.5L1074.0,1462.5L1077.0,1462.4L1080.0,1462.3L1083.1,1462.2L1086.1,1462.2L1089.2,1462.1L1092.2,1462.0L1095.2,1461.9L1098.3,1461.9L1101.3,1461.8L1104.3,1461.7L1107.4,1461.6L1110.4,1461.6L1113.5,1461.5L1116.5,1461.4L1119.5,1461.4L1122.6,1461.3L1125.6,1461.2L1128.6,1461.2L1131.7,1461.1L1134.7,1461.1L1137.8,1461.0L1140.8,1461.0L1143.8,1460.9L1146.9,1460.9L1149.9,1460.8L1152.9,1460.8L1156.0,1460.7L1159.0,1460.7L1162.1,1460.6L1165.1,1460.6L1168.1,1460.5L1171.2,1460.5L1174.2,1460.5L1177.2,1460.4L1180.3,1460.4L1183.3,1460.4L1186.3,1460.4L1189.4,1460.3L1192.4,1460.3L1195.5,1460.3L1198.5,1460.3L1201.5,1460.3L1204.6,1460.3L1207.6,1460.3L1210.7,1460.2L1213.7,1460.2L1216.7,1460.2L1219.8,1460.2L1222.8,1460.2L1225.8,1460.2L1228.9,1460.2L1231.9,1460.2L1235.0,1460.1L1238.0,1460.1L1241.0,1460.1L1244.1,1460.1L1247.1,1460.1L1250.1,1460.1L1253.2,1460.1L1256.2,1460.1L1259.2,1460.1L1262.3,1460.1L1265.3,1460.0L1268.4,1460.0L1271.4,1460.0L1274.4,1460.0L1277.5,1460.0L1280.5,1460.0L1283.6,1460.0L1286.6,1460.0L1289.6,1460.0L1292.7,1460.0L1295.7,1460.0L1298.7,1460.0L1301.8,1459.9L1304.8,1459.9L1307.9,1459.9L1310.9,1459.9L1313.9,1459.9L1317.0,1459.9L1320.0,1459.9L1323.0,1459.9L1326.1,1459.9L1329.1,1459.9L1332.1,1459.9L1335.2,1459.9L1338.2,1459.9L1341.3,1459.9L1344.3,1459.9L1347.3,1459.8L1350.4,1459.8L1353.4,1459.8L1356.5,1459.8L1359.5,1459.8L1362.5,1459.8L1365.6,1459.8L1368.6,1459.8L1371.6,1459.8L1374.7,1459.8L1377.7,1459.8L1380.8,1459.8L1383.8,1459.8L1386.8,1459.8L1389.9,1459.8L1392.9,1459.8L1395.9,1459.8L1399.0,1459.8L1402.0,1459.8L1405.1,1459.8L1408.1,1459.8L1411.1,1459.8L1414.2,1459.8L1417.2,1459.8L1420.2,1459.8L1423.3,1459.8L1426.3,1459.8L1429.4,1459.8L1432.4,1459.8L1435.4,1459.8L1438.5,1459.8L1441.5,1459.8" fill="none" stroke="#F3485C" stroke-width="14.5" stroke-linejoin="round"/>
<path d="M226.5,1331.2L229.5,1333.7L232.6,1336.1L235.6,1338.6L238.7,1341.1L241.7,1343.5L244.7,1345.8L247.8,1348.1L250.8,1350.3L253.8,1352.3L256.9,1354.2L259.9,1356.0L262.9,1357.7L266.0,1359.3L269.0,1361.0L272.1,1362.6L275.1,1364.2L278.1,1365.8L281.2,1367.4L284.2,1368.9L287.2,1370.5L290.3,1372.0L293.3,1373.5L296.4,1375.0L299.4,1376.5L302.4,1377.9L305.5,1379.4L308.5,1380.8L311.6,1382.2L314.6,1383.6L317.6,1384.9L320.7,1386.3L323.7,1387.6L326.7,1388.9L329.8,1390.2L332.8,1391.4L335.9,1392.7L338.9,1393.9L341.9,1395.1L345.0,1396.2L348.0,1397.4L351.0,1398.5L354.1,1399.6L357.1,1400.7L360.1,1401.8L363.2,1402.8L366.2,1403.8L369.3,1404.8L372.3,1405.8L375.3,1406.7L378.4,1407.7L381.4,1408.6L384.5,1409.4L387.5,1410.3L390.5,1411.1L393.6,1411.9L396.6,1412.7L399.6,1413.4L402.7,1414.1L405.7,1414.8L408.8,1415.5L411.8,1416.2L414.8,1416.8L417.9,1417.4L420.9,1418.0L423.9,1418.6L427.0,1419.2L430.0,1419.8L433.1,1420.4L436.1,1420.9L439.1,1421.5L442.2,1422.0L445.2,1422.5L448.2,1423.0L451.3,1423.5L454.3,1424.0L457.4,1424.5L460.4,1425.0L463.4,1425.5L466.5,1425.9L469.5,1426.4L472.5,1426.8L475.6,1427.3L478.6,1427.7L481.6,1428.2L484.7,1428.6L487.7,1429.0L490.8,1429.4L493.8,1429.8L496.8,1430.2L499.9,1430.6L502.9,1431.0L506.0,1431.4L509.0,1431.8L512.0,1432.2L515.1,1432.5L518.1,1432.9L521.1,1433.3L524.2,1433.7L527.2,1434.0L530.2,1434.4L533.3,1434.8L536.3,1435.1L539.4,1435.5L542.4,1435.9L545.4,1436.2L548.5,1436.6L551.5,1437.0L554.5,1437.3L557.6,1437.7L560.6,1438.1L563.7,1438.5L566.7,1438.8L569.7,1439.2L572.8,1439.6L575.8,1440.0L578.9,1440.4L581.9,1440.7L584.9,1441.1L588.0,1441.5L591.0,1441.9L594.0,1442.2L597.1,1442.6L600.1,1443.0L603.2,1443.3L606.2,1443.7L609.2,1444.0L612.3,1444.3L615.3,1444.7L618.3,1445.0L621.4,1445.3L624.4,1445.6L627.5,1445.9L630.5,1446.2L633.5,1446.5L636.6,1446.8L639.6,1447.0L642.6,1447.3L645.7,1447.6L648.7,1447.9L651.8,1448.2L654.8,1448.4L657.8,1448.7L660.9,1449.0L663.9,1449.2L666.9,1449.5L670.0,1449.7L673.0,1450.0L676.0,1450.2L679.1,1450.5L682.1,1450.7L685.2,1450.9L688.2,1451.1L691.2,1451.4L694.3,1451.6L697.3,1451.8L700.4,1452.0L703.4,1452.2L706.4,1452.3L709.5,1452.5L712.5,1452.7L715.5,1452.9L718.6,1453.0L721.6,1453.2L724.7,1453.3L727.7,1453.5L730.7,1453.6L733.8,1453.8L736.8,1453.9L739.8,1454.0L742.9,1454.2L745.9,1454.3L748.9,1454.4L752.0,1454.5L755.0,1454.7L758.1,1454.8L761.1,1454.9L764.1,1455.0L767.2,1455.1L770.2,1455.2L773.2,1455.4L776.3,1455.5L779.3,1455.6L782.4,1455.7L785.4,1455.8L788.4,1455.9L791.5,1456.0L794.5,1456.1L797.6,1456.2L800.6,1456.3L803.6,1456.5L806.7,1456.6L809.7,1456.7L812.7,1456.8L815.8,1456.9L818.8,1457.0L821.9,1457.1L824.9,1457.3L827.9,1457.4L831.0,1457.5L834.0,1457.6L837.0,1457.8L840.1,1457.9L843.1,1458.0L846.2,1458.1L849.2,1458.3L852.2,1458.4L855.3,1458.5L858.3,1458.6L861.3,1458.8L864.4,1458.9L867.4,1459.0L870.5,1459.2L873.5,1459.3L876.5,1459.4L879.6,1459.5L882.6,1459.7L885.6,1459.8L888.7,1459.9L891.7,1460.0L894.8,1460.2L897.8,1460.3L900.8,1460.4L903.9,1460.5L906.9,1460.6L909.9,1460.8L913.0,1460.9L916.0,1461.0L919.1,1461.1L922.1,1461.2L925.1,1461.3L928.2,1461.4L931.2,1461.5L934.2,1461.6L937.3,1461.7L940.3,1461.9L943.4,1461.9L946.4,1462.0L949.4,1462.1L952.5,1462.2L955.5,1462.3L958.5,1462.4L961.6,1462.5L964.6,1462.6L967.7,1462.6L970.7,1462.7L973.7,1462.8L976.8,1462.9L979.8,1463.0L982.8,1463.0L985.9,1463.1L988.9,1463.2L992.0,1463.3L995.0,1463.3L998.0,1463.4L1001.1,1463.5L1004.1,1463.6L1007.1,1463.6L1010.2,1463.7L1013.2,1463.8L1016.2,1463.9L1019.3,1463.9L1022.3,1464.0L1025.4,1464.1L1028.4,1464.1L1031.4,1464.2L1034.5,1464.2L1037.5,1464.3L1040.6,1464.3L1043.6,1464.4L1046.6,1464.4L1049.7,1464.5L1052.7,1464.5L1055.7,1464.6L1058.8,1464.6L1061.8,1464.6L1064.8,1464.7L1067.9,1464.7L1070.9,1464.7L1074.0,1464.7L1077.0,1464.7L1080.0,1464.8L1083.1,1464.8L1086.1,1464.8L1089.2,1464.8L1092.2,1464.8L1095.2,1464.8L1098.3,1464.8L1101.3,1464.8L1104.3,1464.8L1107.4,1464.8L1110.4,1464.8L1113.5,1464.8L1116.5,1464.9L1119.5,1464.9L1122.6,1464.9L1125.6,1464.9L1128.6,1464.9L1131.7,1464.9L1134.7,1464.9L1137.8,1464.9L1140.8,1464.9L1143.8,1464.9L1146.9,1464.9L1149.9,1464.9L1152.9,1465.0L1156.0,1465.0L1159.0,1465.0L1162.1,1465.0L1165.1,1465.0L1168.1,1465.0L1171.2,1465.0L1174.2,1465.0L1177.2,1465.0L1180.3,1465.0L1183.3,1465.0L1186.3,1465.0L1189.4,1465.0L1192.4,1465.0L1195.5,1465.0L1198.5,1465.0L1201.5,1465.1L1204.6,1465.1L1207.6,1465.1L1210.7,1465.1L1213.7,1465.1L1216.7,1465.1L1219.8,1465.1L1222.8,1465.1L1225.8,1465.1L1228.9,1465.1L1231.9,1465.1L1235.0,1465.1L1238.0,1465.1L1241.0,1465.1L1244.1,1465.1L1247.1,1465.1L1250.1,1465.1L1253.2,1465.1L1256.2,1465.1L1259.2,1465.1L1262.3,1465.2L1265.3,1465.2L1268.4,1465.2L1271.4,1465.2L1274.4,1465.2L1277.5,1465.2L1280.5,1465.2L1283.6,1465.2L1286.6,1465.2L1289.6,1465.2L1292.7,1465.2L1295.7,1465.2L1298.7,1465.2L1301.8,1465.2L1304.8,1465.2L1307.9,1465.2L1310.9,1465.2L1313.9,1465.2L1317.0,1465.2L1320.0,1465.2L1323.0,1465.2L1326.1,1465.2L1329.1,1465.2L1332.1,1465.2L1335.2,1465.2L1338.2,1465.2L1341.3,1465.2L1344.3,1465.2L1347.3,1465.2L1350.4,1465.2L1353.4,1465.2L1356.5,1465.2L1359.5,1465.2L1362.5,1465.2L1365.6,1465.2L1368.6,1465.2L1371.6,1465.2L1374.7,1465.3L1377.7,1465.3L1380.8,1465.3L1383.8,1465.3L1386.8,1465.3L1389.9,1465.3L1392.9,1465.3L1395.9,1465.3L1399.0,1465.3L1402.0,1465.3L1405.1,1465.3L1408.1,1465.3L1411.1,1465.3L1414.2,1465.3L1417.2,1465.3L1420.2,1465.3L1423.3,1465.3L1426.3,1465.3L1429.4,1465.3L1432.4,1465.3L1435.4,1465.3L1438.5,1465.3L1441.5,1465.3" fill="none" stroke="#00B14E" stroke-width="14.5" stroke-linejoin="round"/>
<path d="M226.5,1085.3L229.5,1088.7L232.6,1092.1L235.6,1095.5L238.7,1098.9L241.7,1102.3L244.7,1105.6L247.8,1108.9L250.8,1112.3L253.8,1115.5L256.9,1118.8L259.9,1122.0L262.9,1125.2L266.0,1128.5L269.0,1131.7L272.1,1135.0L275.1,1138.2L278.1,1141.5L281.2,1144.8L284.2,1148.1L287.2,1151.3L290.3,1154.6L293.3,1157.9L296.4,1161.2L299.4,1164.5L302.4,1167.8L305.5,1171.1L308.5,1174.4L311.6,1177.6L314.6,1180.9L317.6,1184.1L320.7,1187.4L323.7,1190.6L326.7,1193.8L329.8,1197.0L332.8,1200.2L335.9,1203.4L338.9,1206.5L341.9,1209.6L345.0,1212.7L348.0,1215.8L351.0,1218.8L354.1,1221.8L357.1,1224.8L360.1,1227.8L363.2,1230.7L366.2,1233.6L369.3,1236.5L372.3,1239.3L375.3,1242.1L378.4,1244.8L381.4,1247.6L384.5,1250.2L387.5,1252.9L390.5,1255.4L393.6,1258.0L396.6,1260.5L399.6,1262.9L402.7,1265.3L405.7,1267.6L408.8,1269.9L411.8,1272.2L414.8,1274.4L417.9,1276.6L420.9,1278.9L423.9,1281.1L427.0,1283.3L430.0,1285.4L433.1,1287.6L436.1,1289.8L439.1,1291.9L442.2,1294.0L445.2,1296.2L448.2,1298.3L451.3,1300.3L454.3,1302.4L457.4,1304.5L460.4,1306.5L463.4,1308.5L466.5,1310.6L469.5,1312.6L472.5,1314.5L475.6,1316.5L478.6,1318.4L481.6,1320.4L484.7,1322.3L487.7,1324.2L490.8,1326.1L493.8,1327.9L496.8,1329.8L499.9,1331.6L502.9,1333.4L506.0,1335.2L509.0,1337.0L512.0,1338.7L515.1,1340.4L518.1,1342.2L521.1,1343.9L524.2,1345.5L527.2,1347.2L530.2,1348.8L533.3,1350.4L536.3,1352.0L539.4,1353.6L542.4,1355.1L545.4,1356.6L548.5,1358.2L551.5,1359.6L554.5,1361.1L557.6,1362.5L560.6,1363.9L563.7,1365.3L566.7,1366.7L569.7,1368.0L572.8,1369.4L575.8,1370.7L578.9,1371.9L581.9,1373.2L584.9,1374.4L588.0,1375.6L591.0,1376.8L594.0,1377.9L597.1,1379.1L600.1,1380.2L603.2,1381.3L606.2,1382.4L609.2,1383.5L612.3,1384.6L615.3,1385.7L618.3,1386.8L621.4,1387.9L624.4,1388.9L627.5,1390.0L630.5,1391.0L633.5,1392.1L636.6,1393.1L639.6,1394.1L642.6,1395.1L645.7,1396.1L648.7,1397.1L651.8,1398.1L654.8,1399.1L657.8,1400.1L660.9,1401.0L663.9,1402.0L666.9,1402.9L670.0,1403.8L673.0,1404.8L676.0,1405.7L679.1,1406.6L682.1,1407.5L685.2,1408.4L688.2,1409.3L691.2,1410.1L694.3,1411.0L697.3,1411.9L700.4,1412.7L703.4,1413.6L706.4,1414.4L709.5,1415.2L712.5,1416.0L715.5,1416.8L718.6,1417.6L721.6,1418.4L724.7,1419.2L727.7,1420.0L730.7,1420.8L733.8,1421.5L736.8,1422.3L739.8,1423.0L742.9,1423.8L745.9,1424.5L748.9,1425.2L752.0,1426.0L755.0,1426.7L758.1,1427.4L761.1,1428.1L764.1,1428.8L767.2,1429.4L770.2,1430.1L773.2,1430.8L776.3,1431.4L779.3,1432.1L782.4,1432.7L785.4,1433.4L788.4,1434.0L791.5,1434.6L794.5,1435.2L797.6,1435.8L800.6,1436.4L803.6,1437.0L806.7,1437.6L809.7,1438.2L812.7,1438.8L815.8,1439.3L818.8,1439.9L821.9,1440.5L824.9,1441.0L827.9,1441.5L831.0,1442.0L834.0,1442.5L837.0,1443.0L840.1,1443.5L843.1,1444.0L846.2,1444.4L849.2,1444.9L852.2,1445.3L855.3,1445.7L858.3,1446.2L861.3,1446.6L864.4,1447.0L867.4,1447.4L870.5,1447.8L873.5,1448.2L876.5,1448.6L879.6,1449.0L882.6,1449.3L885.6,1449.7L888.7,1450.1L891.7,1450.5L894.8,1450.8L897.8,1451.2L900.8,1451.6L903.9,1451.9L906.9,1452.3L909.9,1452.6L913.0,1453.0L916.0,1453.3L919.1,1453.7L922.1,1454.0L925.1,1454.3L928.2,1454.7L931.2,1455.0L934.2,1455.3L937.3,1455.6L940.3,1455.9L943.4,1456.2L946.4,1456.5L949.4,1456.8L952.5,1457.1L955.5,1457.4L958.5,1457.7L961.6,1457.9L964.6,1458.2L967.7,1458.5L970.7,1458.7L973.7,1459.0L976.8,1459.2L979.8,1459.5L982.8,1459.7L985.9,1460.0L988.9,1460.2L992.0,1460.4L995.0,1460.7L998.0,1460.9L1001.1,1461.2L1004.1,1461.4L1007.1,1461.6L1010.2,1461.9L1013.2,1462.1L1016.2,1462.3L1019.3,1462.5L1022.3,1462.7L1025.4,1463.0L1028.4,1463.2L1031.4,1463.4L1034.5,1463.6L1037.5,1463.8L1040.6,1464.0L1043.6,1464.1L1046.6,1464.3L1049.7,1464.5L1052.7,1464.7L1055.7,1464.8L1058.8,1465.0L1061.8,1465.1L1064.8,1465.3L1067.9,1465.4L1070.9,1465.5L1074.0,1465.7L1077.0,1465.8L1080.0,1465.9L1083.1,1466.0L1086.1,1466.1L1089.2,1466.2L1092.2,1466.4L1095.2,1466.5L1098.3,1466.6L1101.3,1466.7L1104.3,1466.8L1107.4,1466.9L1110.4,1467.0L1113.5,1467.1L1116.5,1467.2L1119.5,1467.3L1122.6,1467.4L1125.6,1467.5L1128.6,1467.6L1131.7,1467.7L1134.7,1467.7L1137.8,1467.8L1140.8,1467.9L1143.8,1468.0L1146.9,1468.1L1149.9,1468.2L1152.9,1468.2L1156.0,1468.3L1159.0,1468.4L1162.1,1468.4L1165.1,1468.5L1168.1,1468.5L1171.2,1468.6L1174.2,1468.7L1177.2,1468.7L1180.3,1468.7L1183.3,1468.8L1186.3,1468.8L1189.4,1468.9L1192.4,1468.9L1195.5,1468.9L1198.5,1468.9L1201.5,1468.9L1204.6,1469.0L1207.6,1469.0L1210.7,1469.0L1213.7,1469.0L1216.7,1469.0L1219.8,1469.1L1222.8,1469.1L1225.8,1469.1L1228.9,1469.1L1231.9,1469.1L1235.0,1469.1L1238.0,1469.2L1241.0,1469.2L1244.1,1469.2L1247.1,1469.2L1250.1,1469.2L1253.2,1469.2L1256.2,1469.3L1259.2,1469.3L1262.3,1469.3L1265.3,1469.3L1268.4,1469.3L1271.4,1469.3L1274.4,1469.3L1277.5,1469.4L1280.5,1469.4L1283.6,1469.4L1286.6,1469.4L1289.6,1469.4L1292.7,1469.4L1295.7,1469.4L1298.7,1469.4L1301.8,1469.5L1304.8,1469.5L1307.9,1469.5L1310.9,1469.5L1313.9,1469.5L1317.0,1469.5L1320.0,1469.5L1323.0,1469.5L1326.1,1469.5L1329.1,1469.5L1332.1,1469.6L1335.2,1469.6L1338.2,1469.6L1341.3,1469.6L1344.3,1469.6L1347.3,1469.6L1350.4,1469.6L1353.4,1469.6L1356.5,1469.6L1359.5,1469.6L1362.5,1469.6L1365.6,1469.6L1368.6,1469.6L1371.6,1469.6L1374.7,1469.7L1377.7,1469.7L1380.8,1469.7L1383.8,1469.7L1386.8,1469.7L1389.9,1469.7L1392.9,1469.7L1395.9,1469.7L1399.0,1469.7L1402.0,1469.7L1405.1,1469.7L1408.1,1469.7L1411.1,1469.7L1414.2,1469.7L1417.2,1469.7L1420.2,1469.7L1423.3,1469.7L1426.3,1469.7L1429.4,1469.7L1432.4,1469.7L1435.4,1469.7L1438.5,1469.7L1441.5,1469.7" fill="none" stroke="#F7942E" stroke-width="14.5" stroke-linejoin="round"/>
<path d="M216.2,1867.0H236.8M216.2,1882.7H236.8M229.6,1851.2H250.2M229.6,1867.0H250.2M246.6,1831.6H267.2M246.6,1852.6H267.2M276.9,1810.4V1811.3M276.9,1840.9V1841.8M266.6,1810.4H287.2M266.6,1841.8H287.2M297.6,1795.5V1801.1M297.6,1830.7V1836.3M287.3,1795.5H307.9M287.3,1836.3H307.9M317.6,1768.8V1782.8M317.6,1812.4V1826.4M307.3,1768.8H327.9M307.3,1826.4H327.9M348.0,1736.0V1762.3M348.0,1791.9V1818.3M337.7,1736.0H358.3M337.7,1818.3H358.3M378.4,1706.4V1740.6M378.4,1770.2V1804.4M368.1,1706.4H388.7M368.1,1804.4H388.7M408.8,1673.7V1718.6M408.8,1748.2V1793.1M398.4,1673.7H419.1M398.4,1793.1H419.1M439.1,1660.1V1695.3M439.1,1724.9V1760.1M428.8,1660.1H449.4M428.8,1760.1H449.4M469.5,1625.5V1672.0M469.5,1701.6V1748.1M459.2,1625.5H479.8M459.2,1748.1H479.8M499.9,1608.0V1648.2M499.9,1677.8V1718.0M489.6,1608.0H510.2M489.6,1718.0H510.2M530.2,1584.7V1624.6M530.2,1654.2V1694.1M520.0,1584.7H540.5M520.0,1694.1H540.5M560.6,1563.7V1602.3M560.6,1631.9V1670.6M550.3,1563.7H570.9M550.3,1670.6H570.9M591.0,1543.6V1581.4M591.0,1611.0V1648.8M580.7,1543.6H601.3M580.7,1648.8H601.3M621.4,1525.0V1561.5M621.4,1591.1V1627.6M611.1,1525.0H631.7M611.1,1627.6H631.7M651.8,1505.1V1541.3M651.8,1570.9V1607.2M641.5,1505.1H662.0M641.5,1607.2H662.0M682.1,1490.7V1524.6M682.1,1554.2V1588.1M671.8,1490.7H692.4M671.8,1588.1H692.4M712.5,1489.4V1512.8M712.5,1542.4V1565.8M702.2,1489.4H722.8M702.2,1565.8H722.8M742.9,1489.6V1503.6M742.9,1533.2V1547.2M732.6,1489.6H753.2M732.6,1547.2H753.2M773.2,1486.7V1492.9M773.2,1522.5V1528.6M763.0,1486.7H783.5M763.0,1528.6H783.5M803.6,1484.1V1485.0M803.6,1514.6V1515.5M793.3,1484.1H813.9M793.3,1515.5H813.9M823.7,1481.5H844.3M823.7,1505.1H844.3M854.1,1475.5H874.7M854.1,1499.0H874.7M884.5,1469.7H905.0M884.5,1494.3H905.0M914.8,1466.7H935.4M914.8,1491.4H935.4M945.2,1464.5H965.8M945.2,1489.4H965.8M975.6,1462.9H996.2M975.6,1487.9H996.2M1006.0,1461.8H1026.5M1006.0,1486.8H1026.5M1036.3,1461.0H1056.9M1036.3,1486.0H1056.9M1066.7,1460.4H1087.3M1066.7,1485.5H1087.3M1097.1,1460.0H1117.7M1097.1,1485.1H1117.7M1127.5,1459.7H1148.0M1127.5,1484.8H1148.0M1157.8,1459.5H1178.4M1157.8,1484.6H1178.4M1188.2,1459.4H1208.8M1188.2,1484.5H1208.8M1218.6,1459.3H1239.2M1218.6,1484.4H1239.2M1249.0,1459.2H1269.5M1249.0,1484.3H1269.5M1279.3,1459.1H1299.9M1279.3,1484.3H1299.9M1309.7,1459.1H1330.3M1309.7,1484.2H1330.3M1340.1,1459.1H1360.7M1340.1,1484.2H1360.7M1370.5,1459.0H1391.0M1370.5,1484.2H1391.0M1400.8,1459.0H1421.4M1400.8,1484.2H1421.4M1431.2,1459.0H1451.8M1431.2,1484.1H1451.8M226.5,1738.6V1749.9M226.5,1781.2V1801.5M216.2,1738.6H236.8M216.2,1801.5H236.8M239.9,1704.6V1726.4M239.9,1757.7V1788.4M229.6,1704.6H250.2M229.6,1788.4H250.2M256.9,1676.3V1702.8M256.9,1734.1V1769.5M246.6,1676.3H267.2M246.6,1769.5H267.2M276.9,1636.5V1677.6M276.9,1708.9V1759.1M266.6,1636.5H287.2M266.6,1759.1H287.2M297.6,1606.1V1653.6M297.6,1684.9V1741.3M287.3,1606.1H307.9M287.3,1741.3H307.9M317.6,1580.0V1630.8M317.6,1662.1V1721.9M307.3,1580.0H327.9M307.3,1721.9H327.9M348.0,1555.9V1609.6M348.0,1640.9V1703.6M337.7,1555.9H358.3M337.7,1703.6H358.3M378.4,1538.3V1590.2M378.4,1621.5V1682.3M368.1,1538.3H388.7M368.1,1682.3H388.7M408.8,1537.8V1572.6M408.8,1603.9V1647.8M398.4,1537.8H419.1M398.4,1647.8H419.1M439.1,1533.3V1554.8M439.1,1586.1V1616.6M428.8,1533.3H449.4M428.8,1616.6H449.4M469.5,1524.2V1540.4M469.5,1571.7V1597.0M459.2,1524.2H479.8M459.2,1597.0H479.8M499.9,1510.8V1525.8M499.9,1557.1V1581.0M489.6,1510.8H510.2M489.6,1581.0H510.2M530.2,1504.0V1513.2M530.2,1544.5V1562.7M520.0,1504.0H540.5M520.0,1562.7H540.5M560.6,1495.9V1503.8M560.6,1535.1V1551.9M550.3,1495.9H570.9M550.3,1551.9H570.9M591.0,1487.0V1494.3M591.0,1525.6V1542.0M580.7,1487.0H601.3M580.7,1542.0H601.3M621.4,1481.5V1481.8M621.4,1513.1V1522.4M611.1,1481.5H631.7M611.1,1522.4H631.7M651.8,1503.1V1509.0M641.5,1475.0H662.0M641.5,1509.0H662.0M682.1,1497.1V1500.4M671.8,1471.5H692.4M671.8,1500.4H692.4M712.5,1493.2V1495.1M702.2,1468.9H722.8M702.2,1495.1H722.8M742.9,1490.6V1491.2M732.6,1467.6H753.2M732.6,1491.2H753.2M763.0,1466.3H783.5M763.0,1487.3H783.5M793.3,1464.3H813.9M793.3,1485.6H813.9M823.7,1462.9H844.3M823.7,1484.3H844.3M854.1,1461.8H874.7M854.1,1483.5H874.7M884.5,1461.1H905.0M884.5,1482.8H905.0M914.8,1460.6H935.4M914.8,1482.4H935.4M945.2,1460.2H965.8M945.2,1482.1H965.8M975.6,1459.9H996.2M975.6,1481.8H996.2M1006.0,1459.7H1026.5M1006.0,1481.7H1026.5M1036.3,1459.6H1056.9M1036.3,1481.5H1056.9M1066.7,1459.5H1087.3M1066.7,1481.5H1087.3M1097.1,1459.4H1117.7M1097.1,1481.4H1117.7M1127.5,1459.4H1148.0M1127.5,1481.3H1148.0M1157.8,1459.3H1178.4M1157.8,1481.3H1178.4M1188.2,1459.3H1208.8M1188.2,1481.3H1208.8M1218.6,1459.3H1239.2M1218.6,1481.3H1239.2M1249.0,1459.3H1269.5M1249.0,1481.3H1269.5M1279.3,1459.3H1299.9M1279.3,1481.3H1299.9M1309.7,1459.3H1330.3M1309.7,1481.3H1330.3M1340.1,1459.3H1360.7M1340.1,1481.2H1360.7M1370.5,1459.3H1391.0M1370.5,1481.2H1391.0M1400.8,1459.2H1421.4M1400.8,1481.2H1421.4M1431.2,1459.2H1451.8M1431.2,1481.2H1451.8M226.5,1272.5V1275.3M226.5,1301.2V1304.0M216.2,1272.5H236.8M216.2,1304.0H236.8M239.9,1284.1V1286.8M239.9,1312.7V1315.5M229.6,1284.1H250.2M229.6,1315.5H250.2M246.6,1312.6H267.2M246.6,1335.6H267.2M276.9,1325.2V1326.6M276.9,1352.5V1354.0M266.6,1325.2H287.2M266.6,1354.0H287.2M297.6,1329.6V1342.9M297.6,1368.8V1382.0M287.3,1329.6H307.9M287.3,1382.0H307.9M317.6,1342.5V1354.6M317.6,1380.5V1392.7M307.3,1342.5H327.9M307.3,1392.7H327.9M348.0,1360.5V1368.3M348.0,1394.2V1401.9M337.7,1360.5H358.3M337.7,1401.9H358.3M378.4,1371.5V1381.9M378.4,1407.8V1418.1M368.1,1371.5H388.7M368.1,1418.1H388.7M408.8,1385.4V1392.3M408.8,1418.2V1425.2M398.4,1385.4H419.1M398.4,1425.2H419.1M439.1,1402.2V1404.9M439.1,1430.8V1433.6M428.8,1402.2H449.4M428.8,1433.6H449.4M469.5,1417.9V1418.0M469.5,1443.9V1444.1M459.2,1417.9H479.8M459.2,1444.1H479.8M489.6,1428.3H510.2M489.6,1451.9H510.2M520.0,1437.8H540.5M520.0,1458.7H540.5M550.3,1443.3H570.9M550.3,1461.6H570.9M580.7,1451.9H601.3M580.7,1467.6H601.3M611.1,1459.2H631.7M611.1,1475.0H631.7M641.5,1461.3H662.0M641.5,1477.0H662.0M671.8,1463.2H692.4M671.8,1478.9H692.4M702.2,1464.5H722.8M702.2,1480.2H722.8M732.6,1464.2H753.2M732.6,1484.1H753.2M763.0,1461.8H783.5M763.0,1482.8H783.5M793.3,1460.1H813.9M793.3,1481.8H813.9M823.7,1458.9H844.3M823.7,1481.1H844.3M854.1,1458.0H874.7M854.1,1480.6H874.7M884.5,1457.4H905.0M884.5,1480.3H905.0M914.8,1457.0H935.4M914.8,1480.0H935.4M945.2,1456.7H965.8M945.2,1479.9H965.8M975.6,1456.4H996.2M975.6,1479.7H996.2M1006.0,1456.3H1026.5M1006.0,1479.6H1026.5M1036.3,1456.1H1056.9M1036.3,1479.6H1056.9M1066.7,1456.1H1087.3M1066.7,1479.5H1087.3M1097.1,1456.0H1117.7M1097.1,1479.5H1117.7M1127.5,1455.9H1148.0M1127.5,1479.5H1148.0M1157.8,1455.9H1178.4M1157.8,1479.4H1178.4M1188.2,1455.9H1208.8M1188.2,1479.4H1208.8M1218.6,1455.9H1239.2M1218.6,1479.4H1239.2M1249.0,1455.9H1269.5M1249.0,1479.4H1269.5M1279.3,1455.9H1299.9M1279.3,1479.4H1299.9M1309.7,1455.9H1330.3M1309.7,1479.4H1330.3M1340.1,1455.8H1360.7M1340.1,1479.4H1360.7M1370.5,1455.8H1391.0M1370.5,1479.4H1391.0M1400.8,1455.8H1421.4M1400.8,1479.4H1421.4M1431.2,1455.8H1451.8M1431.2,1479.4H1451.8M226.5,1063.0V1065.4M226.5,1102.5V1104.9M216.2,1063.0H236.8M216.2,1104.9H236.8M239.9,1078.0V1086.4M239.9,1123.5V1131.9M229.6,1078.0H250.2M229.6,1131.9H250.2M246.6,1119.9H267.2M246.6,1147.6H267.2M266.6,1137.7H287.2M266.6,1168.1H287.2M297.6,1149.5V1155.5M297.6,1192.6V1198.7M287.3,1149.5H307.9M287.3,1198.7H307.9M317.6,1165.4V1178.0M317.6,1215.1V1227.8M307.3,1165.4H327.9M307.3,1227.8H327.9M348.0,1185.3V1201.4M348.0,1238.5V1254.5M337.7,1185.3H358.3M337.7,1254.5H358.3M378.4,1216.0V1228.6M378.4,1265.7V1278.3M368.1,1216.0H388.7M368.1,1278.3H388.7M398.4,1260.0H419.1M398.4,1293.0H419.1M428.8,1291.9H449.4M428.8,1320.7H449.4M459.2,1321.2H479.8M459.2,1352.7H479.8M489.6,1346.9H510.2M489.6,1379.9H510.2M520.0,1375.4H540.5M520.0,1401.6H540.5M550.3,1398.0H570.9M550.3,1424.2H570.9M580.7,1412.6H601.3M580.7,1436.2H601.3M611.1,1429.7H631.7M611.1,1448.0H631.7M641.5,1438.6H662.0M641.5,1456.9H662.0M671.8,1443.0H692.4M671.8,1461.3H692.4M702.2,1446.4H722.8M702.2,1464.7H722.8M732.6,1447.7H753.2M732.6,1467.6H753.2M763.0,1449.6H783.5M763.0,1470.5H783.5M793.3,1450.1H813.9M793.3,1472.1H813.9M823.7,1451.6H844.3M823.7,1475.2H844.3M854.1,1453.0H874.7M854.1,1478.1H874.7M884.5,1452.7H905.0M884.5,1478.5H905.0M914.8,1452.6H935.4M914.8,1478.7H935.4M945.2,1452.5H965.8M945.2,1478.9H965.8M975.6,1452.4H996.2M975.6,1479.1H996.2M1006.0,1452.3H1026.5M1006.0,1479.2H1026.5M1036.3,1452.3H1056.9M1036.3,1479.2H1056.9M1066.7,1452.2H1087.3M1066.7,1479.3H1087.3M1097.1,1452.2H1117.7M1097.1,1479.3H1117.7M1127.5,1452.2H1148.0M1127.5,1479.3H1148.0M1157.8,1452.2H1178.4M1157.8,1479.4H1178.4M1188.2,1452.2H1208.8M1188.2,1479.4H1208.8M1218.6,1452.2H1239.2M1218.6,1479.4H1239.2M1249.0,1452.2H1269.5M1249.0,1479.4H1269.5M1279.3,1452.2H1299.9M1279.3,1479.4H1299.9M1309.7,1452.2H1330.3M1309.7,1479.4H1330.3M1340.1,1452.2H1360.7M1340.1,1479.4H1360.7M1370.5,1452.2H1391.0M1370.5,1479.4H1391.0M1400.8,1452.2H1421.4M1400.8,1479.4H1421.4M1431.2,1452.2H1451.8M1431.2,1479.4H1451.8" fill="none" stroke="#000" stroke-width="7" stroke-linecap="round"/>
</g>
<g fill="#000">
<rect x="229" y="981.0" width="31" height="7"/>
<rect x="229" y="889.4" width="14" height="7"/>
<rect x="229" y="797.7" width="31" height="7"/>
<rect x="229" y="706.0" width="14" height="7"/>
<rect x="229" y="614.4" width="31" height="7"/>
<rect x="229" y="522.8" width="14" height="7"/>
<rect x="229" y="431.1" width="31" height="7"/>
<rect x="229" y="339.4" width="14" height="7"/>
<rect x="229" y="247.8" width="31" height="7"/>
<rect x="229" y="156.1" width="14" height="7"/>
<rect x="229" y="64.5" width="31" height="7"/>
<rect x="229" y="1897.5" width="31" height="7"/>
<rect x="229" y="1832.0" width="14" height="7"/>
<rect x="229" y="1766.6" width="31" height="7"/>
<rect x="229" y="1701.1" width="14" height="7"/>
<rect x="229" y="1635.6" width="31" height="7"/>
<rect x="229" y="1570.2" width="14" height="7"/>
<rect x="229" y="1504.7" width="31" height="7"/>
<rect x="229" y="1439.2" width="14" height="7"/>
<rect x="229" y="1373.8" width="31" height="7"/>
<rect x="229" y="1308.3" width="14" height="7"/>
<rect x="229" y="1242.8" width="31" height="7"/>
<rect x="229" y="1177.4" width="14" height="7"/>
<rect x="229" y="1111.9" width="31" height="7"/>
<rect x="229" y="1046.5" width="14" height="7"/>
<rect x="229" y="981.0" width="31" height="7"/>
<rect x="222.8" y="1868.0" width="7.5" height="30"/>
<rect x="222.8" y="952.0" width="7.5" height="30"/>
<rect x="283.5" y="1885.0" width="7.5" height="13"/>
<rect x="283.5" y="969.0" width="7.5" height="13"/>
<rect x="344.2" y="1868.0" width="7.5" height="30"/>
<rect x="344.2" y="952.0" width="7.5" height="30"/>
<rect x="405.0" y="1885.0" width="7.5" height="13"/>
<rect x="405.0" y="969.0" width="7.5" height="13"/>
<rect x="465.8" y="1868.0" width="7.5" height="30"/>
<rect x="465.8" y="952.0" width="7.5" height="30"/>
<rect x="526.5" y="1885.0" width="7.5" height="13"/>
<rect x="526.5" y="969.0" width="7.5" height="13"/>
<rect x="587.2" y="1868.0" width="7.5" height="30"/>
<rect x="587.2" y="952.0" width="7.5" height="30"/>
<rect x="648.0" y="1885.0" width="7.5" height="13"/>
<rect x="648.0" y="969.0" width="7.5" height="13"/>
<rect x="708.8" y="1868.0" width="7.5" height="30"/>
<rect x="708.8" y="952.0" width="7.5" height="30"/>
<rect x="769.5" y="1885.0" width="7.5" height="13"/>
<rect x="769.5" y="969.0" width="7.5" height="13"/>
<rect x="830.2" y="1868.0" width="7.5" height="30"/>
<rect x="830.2" y="952.0" width="7.5" height="30"/>
<rect x="891.0" y="1885.0" width="7.5" height="13"/>
<rect x="891.0" y="969.0" width="7.5" height="13"/>
<rect x="951.8" y="1868.0" width="7.5" height="30"/>
<rect x="951.8" y="952.0" width="7.5" height="30"/>
<rect x="1012.5" y="1885.0" width="7.5" height="13"/>
<rect x="1012.5" y="969.0" width="7.5" height="13"/>
<rect x="1073.2" y="1868.0" width="7.5" height="30"/>
<rect x="1073.2" y="952.0" width="7.5" height="30"/>
<rect x="1134.0" y="1885.0" width="7.5" height="13"/>
<rect x="1134.0" y="969.0" width="7.5" height="13"/>
<rect x="1194.8" y="1868.0" width="7.5" height="30"/>
<rect x="1194.8" y="952.0" width="7.5" height="30"/>
<rect x="1255.5" y="1885.0" width="7.5" height="13"/>
<rect x="1255.5" y="969.0" width="7.5" height="13"/>
<rect x="1316.2" y="1868.0" width="7.5" height="30"/>
<rect x="1316.2" y="952.0" width="7.5" height="30"/>
<rect x="1377.0" y="1885.0" width="7.5" height="13"/>
<rect x="1377.0" y="969.0" width="7.5" height="13"/>
<rect x="1437.8" y="1868.0" width="7.5" height="30"/>
<rect x="1437.8" y="952.0" width="7.5" height="30"/>
<rect x="223" y="64" width="7" height="1841"/>
<rect x="1438" y="64" width="7" height="1841"/>
<rect x="223" y="64" width="1222" height="8"/>
<rect x="223" y="981" width="1222" height="7"/>
<rect x="223" y="1897" width="1222" height="8"/>
</g>
<text transform="translate(192,1006.0) scale(0.93,1)" text-anchor="end" font-size="74">0</text>
<text transform="translate(192,822.7) scale(0.93,1)" text-anchor="end" font-size="74">2</text>
<text transform="translate(192,639.4) scale(0.93,1)" text-anchor="end" font-size="74">4</text>
<text transform="translate(192,456.1) scale(0.93,1)" text-anchor="end" font-size="74">6</text>
<text transform="translate(192,272.8) scale(0.93,1)" text-anchor="end" font-size="74">8</text>
<text transform="translate(192,89.5) scale(0.93,1)" text-anchor="end" font-size="74">10</text>
<text transform="translate(192,1922.2) scale(0.93,1)" text-anchor="end" font-size="74">0</text>
<text transform="translate(192,1791.3) scale(0.93,1)" text-anchor="end" font-size="74">5</text>
<text transform="translate(192,1660.3) scale(0.93,1)" text-anchor="end" font-size="74">10</text>
<text transform="translate(192,1529.4) scale(0.93,1)" text-anchor="end" font-size="74">15</text>
<text transform="translate(192,1398.5) scale(0.93,1)" text-anchor="end" font-size="74">20</text>
<text transform="translate(192,1267.5) scale(0.93,1)" text-anchor="end" font-size="74">25</text>
<text transform="translate(192,1136.6) scale(0.93,1)" text-anchor="end" font-size="74">30</text>
<text transform="translate(228.0,1989.8) scale(0.93,1)" text-anchor="middle" font-size="74">0</text>
<text transform="translate(349.5,1989.8) scale(0.93,1)" text-anchor="middle" font-size="74">2</text>
<text transform="translate(471.0,1989.8) scale(0.93,1)" text-anchor="middle" font-size="74">4</text>
<text transform="translate(592.5,1989.8) scale(0.93,1)" text-anchor="middle" font-size="74">6</text>
<text transform="translate(714.0,1989.8) scale(0.93,1)" text-anchor="middle" font-size="74">8</text>
<text transform="translate(835.5,1989.8) scale(0.93,1)" text-anchor="middle" font-size="74">10</text>
<text transform="translate(957.0,1989.8) scale(0.93,1)" text-anchor="middle" font-size="74">12</text>
<text transform="translate(1078.5,1989.8) scale(0.93,1)" text-anchor="middle" font-size="74">14</text>
<text transform="translate(1200.0,1989.8) scale(0.93,1)" text-anchor="middle" font-size="74">16</text>
<text transform="translate(1321.5,1989.8) scale(0.93,1)" text-anchor="middle" font-size="74">18</text>
<text transform="translate(1443.0,1989.8) scale(0.93,1)" text-anchor="middle" font-size="74">20</text>
<text transform="translate(1427.2,147) scale(0.988,1)" text-anchor="end" font-weight="bold" font-size="72">T-10P/40H (PFK5)</text>
<text transform="translate(1424.1,1073.9) scale(0.9845,1)" text-anchor="end" font-weight="bold" font-size="72">T-10P/40H (HFO3E)</text>
<text transform="translate(102,526) rotate(-90)" text-anchor="middle" font-weight="bold"><tspan font-style="italic">C</tspan> (mol m<tspan font-weight="normal" font-size="50" dy="-30">&#8722;3</tspan><tspan dy="30">)</tspan></text>
<text transform="translate(91.7,1443) rotate(-90)" text-anchor="middle" font-weight="bold"><tspan font-style="italic">C</tspan> (mol m<tspan font-weight="normal" font-size="50" dy="-30">&#8722;3</tspan><tspan dy="30">)</tspan></text>
<text x="833.5" y="2069.7" text-anchor="middle" font-weight="bold"><tspan font-style="italic">t</tspan> (h)</text>
<circle cx="1221.5" cy="1554.2" r="18.34" fill="#72D8F3" stroke="#000" stroke-width="7.5"/>
<text x="1301" y="1578">T</text>
<path d="M1221.5,1615.6L1245.9,1654.8L1197.1,1654.8Z" fill="#F9A2C3" stroke="#000" stroke-width="7.5" stroke-linejoin="round"/>
<text x="1301" y="1665.8">MT</text>
<rect x="1205.8" y="1713.0" width="31.3" height="31.3" fill="#A8D5A0" stroke="#000" stroke-width="7.5" stroke-linejoin="round"/>
<text x="1301" y="1752.7">MB</text>
<path d="M1221.5,1793.5L1245.3,1817.3L1221.5,1841.1L1197.7,1817.3Z" fill="#FBC596" stroke="#000" stroke-width="7.5" stroke-linejoin="round"/>
<text x="1301" y="1840.5">B</text>
</svg>
</body></html>
